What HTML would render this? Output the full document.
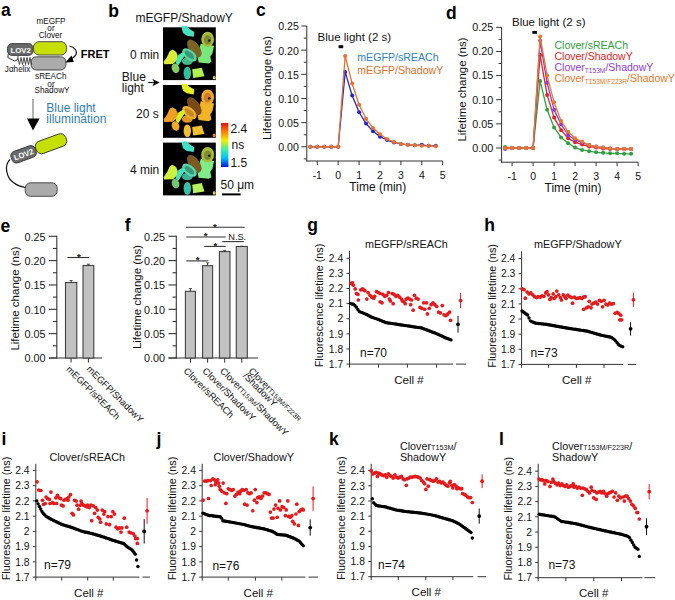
<!DOCTYPE html>
<html><head><meta charset="utf-8"><style>
html,body{margin:0;padding:0;background:#fff;width:675px;height:600px;overflow:hidden}
svg{display:block}
text{font-family:"Liberation Sans", sans-serif}
</style></head><body>
<svg width="675" height="600" viewBox="0 0 675 600">
<rect width="675" height="600" fill="#fff"/>
<text x="1.00" y="16.00" font-size="17.5" text-anchor="start" font-weight="bold" fill="#000" >a</text>
<text x="51.00" y="23.80" font-size="8.2" text-anchor="middle" font-weight="normal" fill="#111" >mEGFP</text>
<text x="51.00" y="31.20" font-size="8.2" text-anchor="middle" font-weight="normal" fill="#111" >or</text>
<text x="50.50" y="37.60" font-size="8.2" text-anchor="middle" font-weight="normal" fill="#111" >Clover</text>
<path d="M8.3,54 L7.8,57.5 L14.5,61 L17.8,59.5 L18,56" fill="#fff" stroke="#222" stroke-width="0.9" />
<rect x="7.50" y="43.60" width="25.60" height="11.80" fill="#686868" stroke="#3a3a3a" stroke-width="0.9" rx="4.5" />
<text x="20.60" y="53.20" font-size="7.8" text-anchor="middle" font-weight="bold" fill="#fff" >LOV2</text>
<rect x="33.50" y="41.70" width="33.00" height="13.30" fill="#c5e000" stroke="#3a3a3a" stroke-width="0.9" rx="5.5" />
<rect x="31.00" y="56.80" width="35.00" height="13.20" fill="#ababab" stroke="#3a3a3a" stroke-width="0.9" rx="5.5" />
<path d="M18,58.5 L19.5,64.5 L21.0,57.5 L22.5,64.5 L24.0,57.5 L25.5,64.5 L27.0,57.5 L28.5,64.5 L30.0,57.5 L31.5,64.5" fill="none" stroke="#333" stroke-width="0.9" />
<text x="4.80" y="71.50" font-size="8.2" text-anchor="start" font-weight="normal" fill="#111" >J&#945;helix</text>
<path d="M69.5,46 C75,47.5 77.5,51 76,54.5 C75.2,56.5 73.5,57.5 72,58.2" fill="none" stroke="#111" stroke-width="1.2" />
<path d="M65.3,62.6 L73.8,62 L71.5,55.5 Z" fill="#000" stroke="none" stroke-width="1" />
<text x="80.80" y="57.60" font-size="11" text-anchor="start" font-weight="bold" fill="#000" >FRET</text>
<text x="50.80" y="79.00" font-size="8.2" text-anchor="middle" font-weight="normal" fill="#111" >sREACh</text>
<text x="51.00" y="86.60" font-size="8.2" text-anchor="middle" font-weight="normal" fill="#111" >or</text>
<text x="52.00" y="92.50" font-size="8.2" text-anchor="middle" font-weight="normal" fill="#111" >ShadowY</text>
<line x1="33.00" y1="99.00" x2="33.00" y2="121.00" stroke="#555" stroke-width="0.9"/>
<path d="M27,118.5 L39.6,118.5 L33,130.5 Z" fill="#000" stroke="none" stroke-width="1" />
<text x="46.30" y="112.30" font-size="12" text-anchor="start" font-weight="normal" fill="#2e7db8" >Blue light</text>
<text x="46.30" y="123.30" font-size="12" text-anchor="start" font-weight="normal" fill="#2e7db8" >illumination</text>
<g transform="translate(51,143.7) rotate(-20)">
<rect x="-16.00" y="-6.50" width="32.00" height="13.00" fill="#c5e000" stroke="#3a3a3a" stroke-width="0.9" rx="5.5" />
</g>
<g transform="translate(23.6,154.3) rotate(-20)">
<rect x="-12.80" y="-6.00" width="25.60" height="12.00" fill="#6a6a6a" stroke="#3a3a3a" stroke-width="0.9" rx="4.5" />
<text x="0.00" y="3.00" font-size="7.8" text-anchor="middle" font-weight="bold" fill="#fff" >LOV2</text>
</g>
<path d="M10,159.5 C4,165 6,178 14,183 C18,186 22,187 26,187.5" fill="none" stroke="#111" stroke-width="1.2" />
<rect x="25.20" y="182.80" width="32.00" height="13.50" fill="#ababab" stroke="#3a3a3a" stroke-width="0.9" rx="5.5" />
<text x="108.30" y="16.90" font-size="17.5" text-anchor="start" font-weight="bold" fill="#000" >b</text>
<text x="184.20" y="22.30" font-size="12" text-anchor="middle" font-weight="normal" fill="#111" >mEGFP/ShadowY</text>
<defs><filter id="soft" x="-10%" y="-10%" width="120%" height="120%"><feGaussianBlur stdDeviation="0.45"/></filter></defs>
<rect x="163.00" y="27.30" width="52.80" height="52.80" fill="#000" stroke="none" stroke-width="1" rx="0" />
<g transform="translate(163,27.3) translate(27,26) scale(1.07) translate(-27,-26)" filter="url(#soft)">
<polyline points="19.00,0.80 23.50,0.50 27.00,3.50 31.00,6.00 30.50,10.50 24.00,9.50 20.50,7.00 19.50,3.50 19.00,0.80" fill="#48e0c0" stroke="none" stroke-width="1" stroke-linejoin="round"/>
<polyline points="37.00,17.00 49.50,19.00 48.00,26.00 46.00,29.00 47.00,34.00 44.50,35.50 35.00,34.50 34.00,29.00 37.50,26.00 36.00,21.00 37.00,17.00" fill="#78e878" stroke="none" stroke-width="1" stroke-linejoin="round"/>
<ellipse cx="43.5" cy="13" rx="6" ry="7.2" transform="rotate(0 43.5 13)" fill="#a8bc38"/>
<ellipse cx="43.5" cy="13.5" rx="3.5" ry="4.5" transform="rotate(0 43.5 13.5)" fill="#7c8a30"/>
<ellipse cx="31" cy="21.5" rx="5" ry="9.5" transform="rotate(-35 31 21.5)" fill="#7c6428"/>
<polyline points="10.50,22.50 14.00,24.50 15.50,28.00 15.50,32.00 11.00,36.00 3.00,36.30 2.30,34.00 5.50,29.50 8.00,24.00 10.50,22.50" fill="#d8ec38" stroke="none" stroke-width="1" stroke-linejoin="round"/>
<ellipse cx="24.5" cy="33.5" rx="5" ry="3.5" transform="rotate(0 24.5 33.5)" fill="#48b888"/>
<ellipse cx="26.5" cy="27.5" rx="8" ry="4.5" transform="rotate(40 26.5 27.5)" fill="#58d8a0"/>
<ellipse cx="26.5" cy="27.5" rx="5.5" ry="2.5" transform="rotate(40 26.5 27.5)" fill="#389878"/>
<polyline points="16.00,27.50 21.00,24.50 22.50,27.50 19.00,33.00 16.00,37.50 13.50,35.00 16.00,27.50" fill="#48e8b0" stroke="none" stroke-width="1" stroke-linejoin="round"/>
<ellipse cx="13.5" cy="40" rx="3.5" ry="4.5" transform="rotate(-20 13.5 40)" fill="#80d060"/>
<ellipse cx="24.5" cy="44.5" rx="3.5" ry="6" transform="rotate(0 24.5 44.5)" fill="#30c0a0"/>
<polyline points="29.00,41.00 38.00,39.50 40.50,47.50 30.00,49.00 29.00,41.00" fill="#b0f050" stroke="none" stroke-width="1" stroke-linejoin="round"/>
<ellipse cx="49.6" cy="48.8" rx="1.4" ry="1.7" transform="rotate(0 49.6 48.8)" fill="#d8d040"/>
<circle cx="45.00" cy="14.00" r="1.2" fill="#202010" stroke="none" stroke-width="1"/>
</g>
<rect x="163.00" y="85.00" width="52.80" height="52.80" fill="#000" stroke="none" stroke-width="1" rx="0" />
<g transform="translate(163,85) translate(27,26) scale(1.07) translate(-27,-26)" filter="url(#soft)">
<polyline points="19.00,0.80 23.50,0.50 27.00,3.50 31.00,6.00 30.50,10.50 24.00,9.50 20.50,7.00 19.50,3.50 19.00,0.80" fill="#e0f020" stroke="none" stroke-width="1" stroke-linejoin="round"/>
<polyline points="37.00,17.00 49.50,19.00 48.00,26.00 46.00,29.00 47.00,34.00 44.50,35.50 35.00,34.50 34.00,29.00 37.50,26.00 36.00,21.00 37.00,17.00" fill="#f0b428" stroke="none" stroke-width="1" stroke-linejoin="round"/>
<ellipse cx="43.5" cy="13" rx="6" ry="7.2" transform="rotate(0 43.5 13)" fill="#f0a830"/>
<ellipse cx="43.5" cy="13.5" rx="3.5" ry="4.5" transform="rotate(0 43.5 13.5)" fill="#c88020"/>
<ellipse cx="31" cy="21.5" rx="5" ry="9.5" transform="rotate(-35 31 21.5)" fill="#7a4a18"/>
<polyline points="10.50,22.50 14.00,24.50 15.50,28.00 15.50,32.00 11.00,36.00 3.00,36.30 2.30,34.00 5.50,29.50 8.00,24.00 10.50,22.50" fill="#f0a020" stroke="none" stroke-width="1" stroke-linejoin="round"/>
<ellipse cx="24.5" cy="33.5" rx="5" ry="3.5" transform="rotate(0 24.5 33.5)" fill="#e09820"/>
<ellipse cx="26.5" cy="27.5" rx="8" ry="4.5" transform="rotate(40 26.5 27.5)" fill="#f0b030"/>
<ellipse cx="26.5" cy="27.5" rx="5.5" ry="2.5" transform="rotate(40 26.5 27.5)" fill="#c88820"/>
<polyline points="16.00,27.50 21.00,24.50 22.50,27.50 19.00,33.00 16.00,37.50 13.50,35.00 16.00,27.50" fill="#d8f028" stroke="none" stroke-width="1" stroke-linejoin="round"/>
<ellipse cx="13.5" cy="40" rx="3.5" ry="4.5" transform="rotate(-20 13.5 40)" fill="#f0a828"/>
<ellipse cx="24.5" cy="44.5" rx="3.5" ry="6" transform="rotate(0 24.5 44.5)" fill="#f0c030"/>
<polyline points="29.00,41.00 38.00,39.50 40.50,47.50 30.00,49.00 29.00,41.00" fill="#f0c030" stroke="none" stroke-width="1" stroke-linejoin="round"/>
<ellipse cx="49.6" cy="48.8" rx="1.4" ry="1.7" transform="rotate(0 49.6 48.8)" fill="#f08020"/>
<circle cx="45.00" cy="14.00" r="1.2" fill="#301800" stroke="none" stroke-width="1"/>
</g>
<rect x="163.00" y="142.60" width="52.80" height="52.80" fill="#000" stroke="none" stroke-width="1" rx="0" />
<g transform="translate(163,142.6) translate(27,26) scale(1.07) translate(-27,-26)" filter="url(#soft)">
<polyline points="19.00,0.80 23.50,0.50 27.00,3.50 31.00,6.00 30.50,10.50 24.00,9.50 20.50,7.00 19.50,3.50 19.00,0.80" fill="#40e0c8" stroke="none" stroke-width="1" stroke-linejoin="round"/>
<polyline points="37.00,17.00 49.50,19.00 48.00,26.00 46.00,29.00 47.00,34.00 44.50,35.50 35.00,34.50 34.00,29.00 37.50,26.00 36.00,21.00 37.00,17.00" fill="#80ec88" stroke="none" stroke-width="1" stroke-linejoin="round"/>
<ellipse cx="43.5" cy="13" rx="6" ry="7.2" transform="rotate(0 43.5 13)" fill="#a8bc38"/>
<ellipse cx="43.5" cy="13.5" rx="3.5" ry="4.5" transform="rotate(0 43.5 13.5)" fill="#7c8a30"/>
<ellipse cx="31" cy="21.5" rx="5" ry="9.5" transform="rotate(-35 31 21.5)" fill="#7a5a20"/>
<polyline points="10.50,22.50 14.00,24.50 15.50,28.00 15.50,32.00 11.00,36.00 3.00,36.30 2.30,34.00 5.50,29.50 8.00,24.00 10.50,22.50" fill="#d0f040" stroke="none" stroke-width="1" stroke-linejoin="round"/>
<ellipse cx="24.5" cy="33.5" rx="5" ry="3.5" transform="rotate(0 24.5 33.5)" fill="#40b090"/>
<ellipse cx="26.5" cy="27.5" rx="8" ry="4.5" transform="rotate(40 26.5 27.5)" fill="#58d8b0"/>
<ellipse cx="26.5" cy="27.5" rx="5.5" ry="2.5" transform="rotate(40 26.5 27.5)" fill="#389878"/>
<polyline points="16.00,27.50 21.00,24.50 22.50,27.50 19.00,33.00 16.00,37.50 13.50,35.00 16.00,27.50" fill="#48e0c0" stroke="none" stroke-width="1" stroke-linejoin="round"/>
<ellipse cx="13.5" cy="40" rx="3.5" ry="4.5" transform="rotate(-20 13.5 40)" fill="#70c870"/>
<ellipse cx="24.5" cy="44.5" rx="3.5" ry="6" transform="rotate(0 24.5 44.5)" fill="#38c0a8"/>
<polyline points="29.00,41.00 38.00,39.50 40.50,47.50 30.00,49.00 29.00,41.00" fill="#b8f060" stroke="none" stroke-width="1" stroke-linejoin="round"/>
<ellipse cx="49.6" cy="48.8" rx="1.4" ry="1.7" transform="rotate(0 49.6 48.8)" fill="#d8d040"/>
<circle cx="45.00" cy="14.00" r="1.2" fill="#202010" stroke="none" stroke-width="1"/>
</g>
<text x="159.30" y="58.60" font-size="12" text-anchor="end" font-weight="normal" fill="#111" >0 min</text>
<text x="158.80" y="117.80" font-size="12" text-anchor="end" font-weight="normal" fill="#111" >20 s</text>
<text x="159.30" y="173.80" font-size="12" text-anchor="end" font-weight="normal" fill="#111" >4 min</text>
<text x="121.80" y="81.20" font-size="12" text-anchor="start" font-weight="normal" fill="#111" >Blue</text>
<text x="121.80" y="92.00" font-size="12" text-anchor="start" font-weight="normal" fill="#111" >light</text>
<line x1="148.30" y1="82.60" x2="156.00" y2="82.60" stroke="#000" stroke-width="1"/>
<path d="M152.3,79 L159.6,82.6 L152.3,86.2 L154.3,82.6 Z" fill="#000" stroke="none" stroke-width="1" />
<defs><linearGradient id="jet" x1="0" y1="0" x2="0" y2="1"><stop offset="0" stop-color="#e01010"/><stop offset="0.2" stop-color="#ff8000"/><stop offset="0.4" stop-color="#f0f000"/><stop offset="0.6" stop-color="#40f0a0"/><stop offset="0.8" stop-color="#00c0ff"/><stop offset="1" stop-color="#0010e0"/></linearGradient></defs>
<rect x="221.00" y="123.00" width="7.40" height="44.00" fill="url(#jet)" stroke="none" stroke-width="1" rx="0" />
<text x="230.50" y="132.60" font-size="12" text-anchor="start" font-weight="normal" fill="#111" >2.4</text>
<text x="231.50" y="149.20" font-size="12" text-anchor="start" font-weight="normal" fill="#111" >ns</text>
<text x="230.50" y="167.20" font-size="12" text-anchor="start" font-weight="normal" fill="#111" >1.5</text>
<text x="220.50" y="189.20" font-size="12" text-anchor="start" font-weight="normal" fill="#111" >50 &#956;m</text>
<rect x="222.00" y="193.40" width="18.60" height="2.00" fill="#000" stroke="none" stroke-width="1" rx="0" />
<text x="256.00" y="16.40" font-size="17.5" text-anchor="start" font-weight="bold" fill="#000" >c</text>
<line x1="306.80" y1="26.00" x2="306.80" y2="161.50" stroke="#333" stroke-width="1"/>
<line x1="306.30" y1="161.00" x2="442.70" y2="161.00" stroke="#333" stroke-width="1"/>
<line x1="301.30" y1="146.80" x2="306.80" y2="146.80" stroke="#333" stroke-width="1"/>
<text x="298.80" y="151.20" font-size="10.6" text-anchor="end" font-weight="normal" fill="#111" >0.00</text>
<line x1="301.30" y1="122.64" x2="306.80" y2="122.64" stroke="#333" stroke-width="1"/>
<text x="298.80" y="127.04" font-size="10.6" text-anchor="end" font-weight="normal" fill="#111" >0.05</text>
<line x1="301.30" y1="98.48" x2="306.80" y2="98.48" stroke="#333" stroke-width="1"/>
<text x="298.80" y="102.88" font-size="10.6" text-anchor="end" font-weight="normal" fill="#111" >0.10</text>
<line x1="301.30" y1="74.32" x2="306.80" y2="74.32" stroke="#333" stroke-width="1"/>
<text x="298.80" y="78.72" font-size="10.6" text-anchor="end" font-weight="normal" fill="#111" >0.15</text>
<line x1="301.30" y1="50.16" x2="306.80" y2="50.16" stroke="#333" stroke-width="1"/>
<text x="298.80" y="54.56" font-size="10.6" text-anchor="end" font-weight="normal" fill="#111" >0.20</text>
<line x1="301.30" y1="26.00" x2="306.80" y2="26.00" stroke="#333" stroke-width="1"/>
<text x="298.80" y="30.40" font-size="10.6" text-anchor="end" font-weight="normal" fill="#111" >0.25</text>
<line x1="303.80" y1="158.88" x2="306.80" y2="158.88" stroke="#333" stroke-width="1"/>
<line x1="303.80" y1="134.72" x2="306.80" y2="134.72" stroke="#333" stroke-width="1"/>
<line x1="303.80" y1="110.56" x2="306.80" y2="110.56" stroke="#333" stroke-width="1"/>
<line x1="303.80" y1="86.40" x2="306.80" y2="86.40" stroke="#333" stroke-width="1"/>
<line x1="303.80" y1="62.24" x2="306.80" y2="62.24" stroke="#333" stroke-width="1"/>
<line x1="303.80" y1="38.08" x2="306.80" y2="38.08" stroke="#333" stroke-width="1"/>
<line x1="317.30" y1="161.00" x2="317.30" y2="165.00" stroke="#333" stroke-width="1"/>
<text x="317.30" y="179.00" font-size="10.5" text-anchor="middle" font-weight="normal" fill="#111" >-1</text>
<line x1="338.20" y1="161.00" x2="338.20" y2="165.00" stroke="#333" stroke-width="1"/>
<text x="338.20" y="179.00" font-size="10.5" text-anchor="middle" font-weight="normal" fill="#111" >0</text>
<line x1="359.10" y1="161.00" x2="359.10" y2="165.00" stroke="#333" stroke-width="1"/>
<text x="359.10" y="179.00" font-size="10.5" text-anchor="middle" font-weight="normal" fill="#111" >1</text>
<line x1="380.00" y1="161.00" x2="380.00" y2="165.00" stroke="#333" stroke-width="1"/>
<text x="380.00" y="179.00" font-size="10.5" text-anchor="middle" font-weight="normal" fill="#111" >2</text>
<line x1="400.90" y1="161.00" x2="400.90" y2="165.00" stroke="#333" stroke-width="1"/>
<text x="400.90" y="179.00" font-size="10.5" text-anchor="middle" font-weight="normal" fill="#111" >3</text>
<line x1="421.80" y1="161.00" x2="421.80" y2="165.00" stroke="#333" stroke-width="1"/>
<text x="421.80" y="179.00" font-size="10.5" text-anchor="middle" font-weight="normal" fill="#111" >4</text>
<line x1="442.70" y1="161.00" x2="442.70" y2="165.00" stroke="#333" stroke-width="1"/>
<text x="442.70" y="179.00" font-size="10.5" text-anchor="middle" font-weight="normal" fill="#111" >5</text>
<text x="377.80" y="191.00" font-size="12" text-anchor="middle" font-weight="normal" fill="#111" >Time (min)</text>
<text x="271.00" y="88.00" font-size="11.5" text-anchor="middle" font-weight="normal" fill="#111" transform="rotate(-90 271 88)" >Lifetime change (ns)</text>
<text x="317.60" y="41.40" font-size="11.5" text-anchor="start" font-weight="normal" fill="#111" >Blue light (2 s)</text>
<rect x="338.60" y="45.20" width="4.60" height="3.00" fill="#000" stroke="none" stroke-width="1" rx="0" />
<text x="357.30" y="61.20" font-size="10.6" text-anchor="start" font-weight="normal" fill="#2d7fc1" >mEGFP/sREACh</text>
<text x="357.30" y="74.30" font-size="10.6" text-anchor="start" font-weight="normal" fill="#e4702c" >mEGFP/ShadowY</text>
<polyline points="310.33,146.80 317.30,146.80 324.27,146.80 331.23,146.80 338.20,146.80 345.17,71.90 352.13,95.58 359.10,112.25 366.07,123.61 373.03,131.34 380.00,136.65 386.97,140.04 393.93,142.45 400.90,143.90 407.87,144.87 414.83,145.35 421.80,144.87 428.77,145.83 435.73,145.83" fill="none" stroke="#2424c8" stroke-width="1.3" stroke-linejoin="round"/>
<circle cx="310.33" cy="146.80" r="2.0" fill="#2424c8" stroke="none" stroke-width="1"/>
<circle cx="317.30" cy="146.80" r="2.0" fill="#2424c8" stroke="none" stroke-width="1"/>
<circle cx="324.27" cy="146.80" r="2.0" fill="#2424c8" stroke="none" stroke-width="1"/>
<circle cx="331.23" cy="146.80" r="2.0" fill="#2424c8" stroke="none" stroke-width="1"/>
<circle cx="338.20" cy="146.80" r="2.0" fill="#2424c8" stroke="none" stroke-width="1"/>
<circle cx="345.17" cy="71.90" r="2.0" fill="#2424c8" stroke="none" stroke-width="1"/>
<circle cx="352.13" cy="95.58" r="2.0" fill="#2424c8" stroke="none" stroke-width="1"/>
<circle cx="359.10" cy="112.25" r="2.0" fill="#2424c8" stroke="none" stroke-width="1"/>
<circle cx="366.07" cy="123.61" r="2.0" fill="#2424c8" stroke="none" stroke-width="1"/>
<circle cx="373.03" cy="131.34" r="2.0" fill="#2424c8" stroke="none" stroke-width="1"/>
<circle cx="380.00" cy="136.65" r="2.0" fill="#2424c8" stroke="none" stroke-width="1"/>
<circle cx="386.97" cy="140.04" r="2.0" fill="#2424c8" stroke="none" stroke-width="1"/>
<circle cx="393.93" cy="142.45" r="2.0" fill="#2424c8" stroke="none" stroke-width="1"/>
<circle cx="400.90" cy="143.90" r="2.0" fill="#2424c8" stroke="none" stroke-width="1"/>
<circle cx="407.87" cy="144.87" r="2.0" fill="#2424c8" stroke="none" stroke-width="1"/>
<circle cx="414.83" cy="145.35" r="2.0" fill="#2424c8" stroke="none" stroke-width="1"/>
<circle cx="421.80" cy="144.87" r="2.0" fill="#2424c8" stroke="none" stroke-width="1"/>
<circle cx="428.77" cy="145.83" r="2.0" fill="#2424c8" stroke="none" stroke-width="1"/>
<circle cx="435.73" cy="145.83" r="2.0" fill="#2424c8" stroke="none" stroke-width="1"/>
<polyline points="310.33,146.80 317.30,146.80 324.27,146.80 331.23,146.80 338.20,146.80 345.17,55.96 352.13,83.50 359.10,104.76 366.07,118.77 373.03,127.96 380.00,134.24 386.97,139.07 393.93,141.97 400.90,143.90 407.87,144.87 414.83,145.35 421.80,145.83 428.77,145.83 435.73,146.32" fill="none" stroke="#e8702a" stroke-width="1.3" stroke-linejoin="round"/>
<circle cx="310.33" cy="146.80" r="2.0" fill="#e8702a" stroke="none" stroke-width="1"/>
<circle cx="317.30" cy="146.80" r="2.0" fill="#e8702a" stroke="none" stroke-width="1"/>
<circle cx="324.27" cy="146.80" r="2.0" fill="#e8702a" stroke="none" stroke-width="1"/>
<circle cx="331.23" cy="146.80" r="2.0" fill="#e8702a" stroke="none" stroke-width="1"/>
<circle cx="338.20" cy="146.80" r="2.0" fill="#e8702a" stroke="none" stroke-width="1"/>
<circle cx="345.17" cy="55.96" r="2.0" fill="#e8702a" stroke="none" stroke-width="1"/>
<circle cx="352.13" cy="83.50" r="2.0" fill="#e8702a" stroke="none" stroke-width="1"/>
<circle cx="359.10" cy="104.76" r="2.0" fill="#e8702a" stroke="none" stroke-width="1"/>
<circle cx="366.07" cy="118.77" r="2.0" fill="#e8702a" stroke="none" stroke-width="1"/>
<circle cx="373.03" cy="127.96" r="2.0" fill="#e8702a" stroke="none" stroke-width="1"/>
<circle cx="380.00" cy="134.24" r="2.0" fill="#e8702a" stroke="none" stroke-width="1"/>
<circle cx="386.97" cy="139.07" r="2.0" fill="#e8702a" stroke="none" stroke-width="1"/>
<circle cx="393.93" cy="141.97" r="2.0" fill="#e8702a" stroke="none" stroke-width="1"/>
<circle cx="400.90" cy="143.90" r="2.0" fill="#e8702a" stroke="none" stroke-width="1"/>
<circle cx="407.87" cy="144.87" r="2.0" fill="#e8702a" stroke="none" stroke-width="1"/>
<circle cx="414.83" cy="145.35" r="2.0" fill="#e8702a" stroke="none" stroke-width="1"/>
<circle cx="421.80" cy="145.83" r="2.0" fill="#e8702a" stroke="none" stroke-width="1"/>
<circle cx="428.77" cy="145.83" r="2.0" fill="#e8702a" stroke="none" stroke-width="1"/>
<circle cx="435.73" cy="146.32" r="2.0" fill="#e8702a" stroke="none" stroke-width="1"/>
<text x="446.00" y="18.50" font-size="17.5" text-anchor="start" font-weight="bold" fill="#000" >d</text>
<line x1="501.60" y1="27.30" x2="501.60" y2="162.70" stroke="#333" stroke-width="1"/>
<line x1="501.10" y1="162.20" x2="638.10" y2="162.20" stroke="#333" stroke-width="1"/>
<line x1="496.10" y1="148.00" x2="501.60" y2="148.00" stroke="#333" stroke-width="1"/>
<text x="493.20" y="151.90" font-size="10.8" text-anchor="end" font-weight="normal" fill="#111" >0.00</text>
<line x1="496.10" y1="123.86" x2="501.60" y2="123.86" stroke="#333" stroke-width="1"/>
<text x="493.20" y="127.76" font-size="10.8" text-anchor="end" font-weight="normal" fill="#111" >0.05</text>
<line x1="496.10" y1="99.72" x2="501.60" y2="99.72" stroke="#333" stroke-width="1"/>
<text x="493.20" y="103.62" font-size="10.8" text-anchor="end" font-weight="normal" fill="#111" >0.10</text>
<line x1="496.10" y1="75.58" x2="501.60" y2="75.58" stroke="#333" stroke-width="1"/>
<text x="493.20" y="79.48" font-size="10.8" text-anchor="end" font-weight="normal" fill="#111" >0.15</text>
<line x1="496.10" y1="51.44" x2="501.60" y2="51.44" stroke="#333" stroke-width="1"/>
<text x="493.20" y="55.34" font-size="10.8" text-anchor="end" font-weight="normal" fill="#111" >0.20</text>
<line x1="496.10" y1="27.30" x2="501.60" y2="27.30" stroke="#333" stroke-width="1"/>
<text x="493.20" y="31.20" font-size="10.8" text-anchor="end" font-weight="normal" fill="#111" >0.25</text>
<line x1="498.60" y1="160.07" x2="501.60" y2="160.07" stroke="#333" stroke-width="1"/>
<line x1="498.60" y1="135.93" x2="501.60" y2="135.93" stroke="#333" stroke-width="1"/>
<line x1="498.60" y1="111.79" x2="501.60" y2="111.79" stroke="#333" stroke-width="1"/>
<line x1="498.60" y1="87.65" x2="501.60" y2="87.65" stroke="#333" stroke-width="1"/>
<line x1="498.60" y1="63.51" x2="501.60" y2="63.51" stroke="#333" stroke-width="1"/>
<line x1="498.60" y1="39.37" x2="501.60" y2="39.37" stroke="#333" stroke-width="1"/>
<line x1="512.10" y1="162.20" x2="512.10" y2="166.20" stroke="#333" stroke-width="1"/>
<text x="512.10" y="180.20" font-size="10.5" text-anchor="middle" font-weight="normal" fill="#111" >-1</text>
<line x1="533.10" y1="162.20" x2="533.10" y2="166.20" stroke="#333" stroke-width="1"/>
<text x="533.10" y="180.20" font-size="10.5" text-anchor="middle" font-weight="normal" fill="#111" >0</text>
<line x1="554.10" y1="162.20" x2="554.10" y2="166.20" stroke="#333" stroke-width="1"/>
<text x="554.10" y="180.20" font-size="10.5" text-anchor="middle" font-weight="normal" fill="#111" >1</text>
<line x1="575.10" y1="162.20" x2="575.10" y2="166.20" stroke="#333" stroke-width="1"/>
<text x="575.10" y="180.20" font-size="10.5" text-anchor="middle" font-weight="normal" fill="#111" >2</text>
<line x1="596.10" y1="162.20" x2="596.10" y2="166.20" stroke="#333" stroke-width="1"/>
<text x="596.10" y="180.20" font-size="10.5" text-anchor="middle" font-weight="normal" fill="#111" >3</text>
<line x1="617.10" y1="162.20" x2="617.10" y2="166.20" stroke="#333" stroke-width="1"/>
<text x="617.10" y="180.20" font-size="10.5" text-anchor="middle" font-weight="normal" fill="#111" >4</text>
<line x1="638.10" y1="162.20" x2="638.10" y2="166.20" stroke="#333" stroke-width="1"/>
<text x="638.10" y="180.20" font-size="10.5" text-anchor="middle" font-weight="normal" fill="#111" >5</text>
<text x="573.00" y="192.20" font-size="12" text-anchor="middle" font-weight="normal" fill="#111" >Time (min)</text>
<text x="465.70" y="89.50" font-size="11.5" text-anchor="middle" font-weight="normal" fill="#111" transform="rotate(-90 465.7 89.5)" >Lifetime change (ns)</text>
<text x="512.00" y="26.40" font-size="11.5" text-anchor="start" font-weight="normal" fill="#111" >Blue light (2 s)</text>
<rect x="532.40" y="31.00" width="4.50" height="2.80" fill="#000" stroke="none" stroke-width="1" rx="0" />
<text x="554.50" y="48.80" font-size="10.5" text-anchor="start" font-weight="normal" fill="#2ea040" >Clover/sREACh</text>
<text x="554.50" y="59.60" font-size="10.5" text-anchor="start" font-weight="normal" fill="#e02424" >Clover/ShadowY</text>
<text x="554.5" y="71.2" font-size="10.5" fill="#8a3cd8">Clover<tspan font-size="6.6" dy="1.3">T153M</tspan><tspan dy="-1.3">/ShadowY</tspan></text>
<text x="554.5" y="82.2" font-size="10.5" fill="#e8782a">Clover<tspan font-size="6.6" dy="1.3">T153M/F223R</tspan><tspan dy="-1.3">/ShadowY</tspan></text>
<polyline points="505.10,147.03 512.10,148.00 519.10,148.00 526.10,148.00 533.10,148.00 540.10,80.89 547.10,109.86 554.10,127.48 561.10,137.38 568.10,143.27 575.10,147.52 582.10,149.93 589.10,151.23 596.10,152.35 603.10,152.83 610.10,153.31 617.10,153.31 624.10,153.79 631.10,153.79" fill="none" stroke="#2ea040" stroke-width="1.3" stroke-linejoin="round"/>
<circle cx="505.10" cy="147.03" r="2.0" fill="#2ea040" stroke="none" stroke-width="1"/>
<circle cx="512.10" cy="148.00" r="2.0" fill="#2ea040" stroke="none" stroke-width="1"/>
<circle cx="519.10" cy="148.00" r="2.0" fill="#2ea040" stroke="none" stroke-width="1"/>
<circle cx="526.10" cy="148.00" r="2.0" fill="#2ea040" stroke="none" stroke-width="1"/>
<circle cx="533.10" cy="148.00" r="2.0" fill="#2ea040" stroke="none" stroke-width="1"/>
<circle cx="540.10" cy="80.89" r="2.0" fill="#2ea040" stroke="none" stroke-width="1"/>
<circle cx="547.10" cy="109.86" r="2.0" fill="#2ea040" stroke="none" stroke-width="1"/>
<circle cx="554.10" cy="127.48" r="2.0" fill="#2ea040" stroke="none" stroke-width="1"/>
<circle cx="561.10" cy="137.38" r="2.0" fill="#2ea040" stroke="none" stroke-width="1"/>
<circle cx="568.10" cy="143.27" r="2.0" fill="#2ea040" stroke="none" stroke-width="1"/>
<circle cx="575.10" cy="147.52" r="2.0" fill="#2ea040" stroke="none" stroke-width="1"/>
<circle cx="582.10" cy="149.93" r="2.0" fill="#2ea040" stroke="none" stroke-width="1"/>
<circle cx="589.10" cy="151.23" r="2.0" fill="#2ea040" stroke="none" stroke-width="1"/>
<circle cx="596.10" cy="152.35" r="2.0" fill="#2ea040" stroke="none" stroke-width="1"/>
<circle cx="603.10" cy="152.83" r="2.0" fill="#2ea040" stroke="none" stroke-width="1"/>
<circle cx="610.10" cy="153.31" r="2.0" fill="#2ea040" stroke="none" stroke-width="1"/>
<circle cx="617.10" cy="153.31" r="2.0" fill="#2ea040" stroke="none" stroke-width="1"/>
<circle cx="624.10" cy="153.79" r="2.0" fill="#2ea040" stroke="none" stroke-width="1"/>
<circle cx="631.10" cy="153.79" r="2.0" fill="#2ea040" stroke="none" stroke-width="1"/>
<polyline points="505.10,148.00 512.10,148.00 519.10,148.00 526.10,148.00 533.10,148.00 540.10,55.06 547.10,94.89 554.10,117.58 561.10,130.14 568.10,138.34 575.10,142.21 582.10,144.62 589.10,146.55 596.10,147.52 603.10,148.48 610.10,148.97 617.10,148.97 624.10,148.97 631.10,148.97" fill="none" stroke="#e02424" stroke-width="1.3" stroke-linejoin="round"/>
<circle cx="505.10" cy="148.00" r="2.0" fill="#e02424" stroke="none" stroke-width="1"/>
<circle cx="512.10" cy="148.00" r="2.0" fill="#e02424" stroke="none" stroke-width="1"/>
<circle cx="519.10" cy="148.00" r="2.0" fill="#e02424" stroke="none" stroke-width="1"/>
<circle cx="526.10" cy="148.00" r="2.0" fill="#e02424" stroke="none" stroke-width="1"/>
<circle cx="533.10" cy="148.00" r="2.0" fill="#e02424" stroke="none" stroke-width="1"/>
<circle cx="540.10" cy="55.06" r="2.0" fill="#e02424" stroke="none" stroke-width="1"/>
<circle cx="547.10" cy="94.89" r="2.0" fill="#e02424" stroke="none" stroke-width="1"/>
<circle cx="554.10" cy="117.58" r="2.0" fill="#e02424" stroke="none" stroke-width="1"/>
<circle cx="561.10" cy="130.14" r="2.0" fill="#e02424" stroke="none" stroke-width="1"/>
<circle cx="568.10" cy="138.34" r="2.0" fill="#e02424" stroke="none" stroke-width="1"/>
<circle cx="575.10" cy="142.21" r="2.0" fill="#e02424" stroke="none" stroke-width="1"/>
<circle cx="582.10" cy="144.62" r="2.0" fill="#e02424" stroke="none" stroke-width="1"/>
<circle cx="589.10" cy="146.55" r="2.0" fill="#e02424" stroke="none" stroke-width="1"/>
<circle cx="596.10" cy="147.52" r="2.0" fill="#e02424" stroke="none" stroke-width="1"/>
<circle cx="603.10" cy="148.48" r="2.0" fill="#e02424" stroke="none" stroke-width="1"/>
<circle cx="610.10" cy="148.97" r="2.0" fill="#e02424" stroke="none" stroke-width="1"/>
<circle cx="617.10" cy="148.97" r="2.0" fill="#e02424" stroke="none" stroke-width="1"/>
<circle cx="624.10" cy="148.97" r="2.0" fill="#e02424" stroke="none" stroke-width="1"/>
<circle cx="631.10" cy="148.97" r="2.0" fill="#e02424" stroke="none" stroke-width="1"/>
<polyline points="505.10,148.97 512.10,148.00 519.10,148.00 526.10,148.00 533.10,148.00 540.10,40.82 547.10,82.82 554.10,109.86 561.10,124.34 568.10,134.96 575.10,139.79 582.10,142.69 589.10,145.10 596.10,146.55 603.10,147.52 610.10,148.48 617.10,148.97 624.10,148.97 631.10,148.97" fill="none" stroke="#8a3cd8" stroke-width="1.3" stroke-linejoin="round"/>
<circle cx="505.10" cy="148.97" r="2.0" fill="#8a3cd8" stroke="none" stroke-width="1"/>
<circle cx="512.10" cy="148.00" r="2.0" fill="#8a3cd8" stroke="none" stroke-width="1"/>
<circle cx="519.10" cy="148.00" r="2.0" fill="#8a3cd8" stroke="none" stroke-width="1"/>
<circle cx="526.10" cy="148.00" r="2.0" fill="#8a3cd8" stroke="none" stroke-width="1"/>
<circle cx="533.10" cy="148.00" r="2.0" fill="#8a3cd8" stroke="none" stroke-width="1"/>
<circle cx="540.10" cy="40.82" r="2.0" fill="#8a3cd8" stroke="none" stroke-width="1"/>
<circle cx="547.10" cy="82.82" r="2.0" fill="#8a3cd8" stroke="none" stroke-width="1"/>
<circle cx="554.10" cy="109.86" r="2.0" fill="#8a3cd8" stroke="none" stroke-width="1"/>
<circle cx="561.10" cy="124.34" r="2.0" fill="#8a3cd8" stroke="none" stroke-width="1"/>
<circle cx="568.10" cy="134.96" r="2.0" fill="#8a3cd8" stroke="none" stroke-width="1"/>
<circle cx="575.10" cy="139.79" r="2.0" fill="#8a3cd8" stroke="none" stroke-width="1"/>
<circle cx="582.10" cy="142.69" r="2.0" fill="#8a3cd8" stroke="none" stroke-width="1"/>
<circle cx="589.10" cy="145.10" r="2.0" fill="#8a3cd8" stroke="none" stroke-width="1"/>
<circle cx="596.10" cy="146.55" r="2.0" fill="#8a3cd8" stroke="none" stroke-width="1"/>
<circle cx="603.10" cy="147.52" r="2.0" fill="#8a3cd8" stroke="none" stroke-width="1"/>
<circle cx="610.10" cy="148.48" r="2.0" fill="#8a3cd8" stroke="none" stroke-width="1"/>
<circle cx="617.10" cy="148.97" r="2.0" fill="#8a3cd8" stroke="none" stroke-width="1"/>
<circle cx="624.10" cy="148.97" r="2.0" fill="#8a3cd8" stroke="none" stroke-width="1"/>
<circle cx="631.10" cy="148.97" r="2.0" fill="#8a3cd8" stroke="none" stroke-width="1"/>
<polyline points="505.10,148.00 512.10,148.00 519.10,148.00 526.10,148.00 533.10,148.00 540.10,36.47 547.10,75.58 554.10,102.33 561.10,120.96 568.10,131.83 575.10,138.34 582.10,141.72 589.10,145.10 596.10,146.55 603.10,147.52 610.10,148.48 617.10,148.97 624.10,148.97 631.10,148.97" fill="none" stroke="#e8782a" stroke-width="1.3" stroke-linejoin="round"/>
<circle cx="505.10" cy="148.00" r="2.0" fill="#e8782a" stroke="none" stroke-width="1"/>
<circle cx="512.10" cy="148.00" r="2.0" fill="#e8782a" stroke="none" stroke-width="1"/>
<circle cx="519.10" cy="148.00" r="2.0" fill="#e8782a" stroke="none" stroke-width="1"/>
<circle cx="526.10" cy="148.00" r="2.0" fill="#e8782a" stroke="none" stroke-width="1"/>
<circle cx="533.10" cy="148.00" r="2.0" fill="#e8782a" stroke="none" stroke-width="1"/>
<circle cx="540.10" cy="36.47" r="2.0" fill="#e8782a" stroke="none" stroke-width="1"/>
<circle cx="547.10" cy="75.58" r="2.0" fill="#e8782a" stroke="none" stroke-width="1"/>
<circle cx="554.10" cy="102.33" r="2.0" fill="#e8782a" stroke="none" stroke-width="1"/>
<circle cx="561.10" cy="120.96" r="2.0" fill="#e8782a" stroke="none" stroke-width="1"/>
<circle cx="568.10" cy="131.83" r="2.0" fill="#e8782a" stroke="none" stroke-width="1"/>
<circle cx="575.10" cy="138.34" r="2.0" fill="#e8782a" stroke="none" stroke-width="1"/>
<circle cx="582.10" cy="141.72" r="2.0" fill="#e8782a" stroke="none" stroke-width="1"/>
<circle cx="589.10" cy="145.10" r="2.0" fill="#e8782a" stroke="none" stroke-width="1"/>
<circle cx="596.10" cy="146.55" r="2.0" fill="#e8782a" stroke="none" stroke-width="1"/>
<circle cx="603.10" cy="147.52" r="2.0" fill="#e8782a" stroke="none" stroke-width="1"/>
<circle cx="610.10" cy="148.48" r="2.0" fill="#e8782a" stroke="none" stroke-width="1"/>
<circle cx="617.10" cy="148.97" r="2.0" fill="#e8782a" stroke="none" stroke-width="1"/>
<circle cx="624.10" cy="148.97" r="2.0" fill="#e8782a" stroke="none" stroke-width="1"/>
<circle cx="631.10" cy="148.97" r="2.0" fill="#e8782a" stroke="none" stroke-width="1"/>
<text x="0.50" y="232.00" font-size="17.5" text-anchor="start" font-weight="bold" fill="#000" >e</text>
<line x1="56.80" y1="235.75" x2="56.80" y2="358.50" stroke="#333" stroke-width="1.1"/>
<line x1="49.00" y1="358.00" x2="102.00" y2="358.00" stroke="#333" stroke-width="1.1"/>
<line x1="49.00" y1="358.00" x2="56.80" y2="358.00" stroke="#333" stroke-width="1.1"/>
<text x="45.50" y="362.40" font-size="10.8" text-anchor="end" font-weight="normal" fill="#111" >0.00</text>
<line x1="49.00" y1="333.65" x2="56.80" y2="333.65" stroke="#333" stroke-width="1.1"/>
<text x="45.50" y="338.05" font-size="10.8" text-anchor="end" font-weight="normal" fill="#111" >0.05</text>
<line x1="49.00" y1="309.30" x2="56.80" y2="309.30" stroke="#333" stroke-width="1.1"/>
<text x="45.50" y="313.70" font-size="10.8" text-anchor="end" font-weight="normal" fill="#111" >0.10</text>
<line x1="49.00" y1="284.95" x2="56.80" y2="284.95" stroke="#333" stroke-width="1.1"/>
<text x="45.50" y="289.35" font-size="10.8" text-anchor="end" font-weight="normal" fill="#111" >0.15</text>
<line x1="49.00" y1="260.60" x2="56.80" y2="260.60" stroke="#333" stroke-width="1.1"/>
<text x="45.50" y="265.00" font-size="10.8" text-anchor="end" font-weight="normal" fill="#111" >0.20</text>
<line x1="49.00" y1="236.25" x2="56.80" y2="236.25" stroke="#333" stroke-width="1.1"/>
<text x="45.50" y="240.65" font-size="10.8" text-anchor="end" font-weight="normal" fill="#111" >0.25</text>
<line x1="53.00" y1="345.82" x2="56.80" y2="345.82" stroke="#333" stroke-width="1.1"/>
<line x1="53.00" y1="321.48" x2="56.80" y2="321.48" stroke="#333" stroke-width="1.1"/>
<line x1="53.00" y1="297.12" x2="56.80" y2="297.12" stroke="#333" stroke-width="1.1"/>
<line x1="53.00" y1="272.77" x2="56.80" y2="272.77" stroke="#333" stroke-width="1.1"/>
<line x1="53.00" y1="248.43" x2="56.80" y2="248.43" stroke="#333" stroke-width="1.1"/>
<text x="18.60" y="298.50" font-size="11.5" text-anchor="middle" font-weight="normal" fill="#111" transform="rotate(-90 18.6 298.5)" >Lifetime change (ns)</text>
<rect x="65.50" y="282.51" width="11.30" height="75.49" fill="#c2c2c2" stroke="#404040" stroke-width="1.1" rx="0" />
<line x1="71.15" y1="280.50" x2="71.15" y2="282.51" stroke="#333" stroke-width="1"/>
<line x1="69.65" y1="280.50" x2="72.65" y2="280.50" stroke="#333" stroke-width="0.8"/>
<rect x="83.00" y="265.47" width="10.80" height="92.53" fill="#c2c2c2" stroke="#404040" stroke-width="1.1" rx="0" />
<line x1="88.40" y1="264.20" x2="88.40" y2="265.47" stroke="#333" stroke-width="1"/>
<line x1="86.90" y1="264.20" x2="89.90" y2="264.20" stroke="#333" stroke-width="0.8"/>
<line x1="71.10" y1="358.00" x2="71.10" y2="362.50" stroke="#333" stroke-width="1"/>
<line x1="88.40" y1="358.00" x2="88.40" y2="362.50" stroke="#333" stroke-width="1"/>
<line x1="67.50" y1="257.50" x2="89.00" y2="257.50" stroke="#333" stroke-width="1.1"/>
<text x="78.80" y="259.90" font-size="9.8" text-anchor="middle" font-weight="bold" fill="#222" >*</text>
<text x="65.80" y="369.80" font-size="9.3" text-anchor="start" font-weight="normal" fill="#111" transform="rotate(45 65.8 369.8)" >mEGFP/sREACh</text>
<text x="86.00" y="369.50" font-size="9.4" text-anchor="start" font-weight="normal" fill="#111" transform="rotate(45 86 369.5)" >mEGFP/ShadowY</text>
<text x="124.80" y="231.20" font-size="17.5" text-anchor="start" font-weight="bold" fill="#000" >f</text>
<line x1="176.30" y1="235.75" x2="176.30" y2="358.50" stroke="#333" stroke-width="1.1"/>
<line x1="168.50" y1="358.00" x2="257.80" y2="358.00" stroke="#333" stroke-width="1.1"/>
<line x1="168.50" y1="358.00" x2="176.30" y2="358.00" stroke="#333" stroke-width="1.1"/>
<text x="165.00" y="362.40" font-size="10.8" text-anchor="end" font-weight="normal" fill="#111" >0.00</text>
<line x1="168.50" y1="333.65" x2="176.30" y2="333.65" stroke="#333" stroke-width="1.1"/>
<text x="165.00" y="338.05" font-size="10.8" text-anchor="end" font-weight="normal" fill="#111" >0.05</text>
<line x1="168.50" y1="309.30" x2="176.30" y2="309.30" stroke="#333" stroke-width="1.1"/>
<text x="165.00" y="313.70" font-size="10.8" text-anchor="end" font-weight="normal" fill="#111" >0.10</text>
<line x1="168.50" y1="284.95" x2="176.30" y2="284.95" stroke="#333" stroke-width="1.1"/>
<text x="165.00" y="289.35" font-size="10.8" text-anchor="end" font-weight="normal" fill="#111" >0.15</text>
<line x1="168.50" y1="260.60" x2="176.30" y2="260.60" stroke="#333" stroke-width="1.1"/>
<text x="165.00" y="265.00" font-size="10.8" text-anchor="end" font-weight="normal" fill="#111" >0.20</text>
<line x1="168.50" y1="236.25" x2="176.30" y2="236.25" stroke="#333" stroke-width="1.1"/>
<text x="165.00" y="240.65" font-size="10.8" text-anchor="end" font-weight="normal" fill="#111" >0.25</text>
<line x1="172.50" y1="345.82" x2="176.30" y2="345.82" stroke="#333" stroke-width="1.1"/>
<line x1="172.50" y1="321.48" x2="176.30" y2="321.48" stroke="#333" stroke-width="1.1"/>
<line x1="172.50" y1="297.12" x2="176.30" y2="297.12" stroke="#333" stroke-width="1.1"/>
<line x1="172.50" y1="272.77" x2="176.30" y2="272.77" stroke="#333" stroke-width="1.1"/>
<line x1="172.50" y1="248.43" x2="176.30" y2="248.43" stroke="#333" stroke-width="1.1"/>
<text x="140.50" y="297.00" font-size="11.5" text-anchor="middle" font-weight="normal" fill="#111" transform="rotate(-90 140.5 297)" >Lifetime change (ns)</text>
<rect x="185.40" y="291.28" width="10.00" height="66.72" fill="#c2c2c2" stroke="#404040" stroke-width="1.1" rx="0" />
<line x1="190.40" y1="288.50" x2="190.40" y2="291.28" stroke="#333" stroke-width="1"/>
<line x1="188.90" y1="288.50" x2="191.90" y2="288.50" stroke="#333" stroke-width="0.8"/>
<rect x="202.60" y="265.71" width="10.00" height="92.29" fill="#c2c2c2" stroke="#404040" stroke-width="1.1" rx="0" />
<line x1="207.60" y1="262.90" x2="207.60" y2="265.71" stroke="#333" stroke-width="1"/>
<line x1="206.10" y1="262.90" x2="209.10" y2="262.90" stroke="#333" stroke-width="0.8"/>
<rect x="219.40" y="251.59" width="10.60" height="106.41" fill="#c2c2c2" stroke="#404040" stroke-width="1.1" rx="0" />
<line x1="224.70" y1="250.40" x2="224.70" y2="251.59" stroke="#333" stroke-width="1"/>
<line x1="223.20" y1="250.40" x2="226.20" y2="250.40" stroke="#333" stroke-width="0.8"/>
<rect x="236.30" y="246.48" width="11.00" height="111.52" fill="#c2c2c2" stroke="#404040" stroke-width="1.1" rx="0" />
<line x1="241.80" y1="246.20" x2="241.80" y2="246.48" stroke="#333" stroke-width="1"/>
<line x1="240.30" y1="246.20" x2="243.30" y2="246.20" stroke="#333" stroke-width="0.8"/>
<line x1="190.50" y1="358.00" x2="190.50" y2="362.70" stroke="#333" stroke-width="1"/>
<line x1="207.60" y1="358.00" x2="207.60" y2="362.70" stroke="#333" stroke-width="1"/>
<line x1="224.70" y1="358.00" x2="224.70" y2="362.70" stroke="#333" stroke-width="1"/>
<line x1="241.80" y1="358.00" x2="241.80" y2="362.70" stroke="#333" stroke-width="1"/>
<line x1="186.30" y1="260.90" x2="208.30" y2="260.90" stroke="#333" stroke-width="1.1"/>
<text x="197.70" y="263.30" font-size="9.8" text-anchor="middle" font-weight="bold" fill="#222" >*</text>
<line x1="204.30" y1="246.40" x2="225.70" y2="246.40" stroke="#333" stroke-width="1.1"/>
<text x="215.40" y="248.80" font-size="9.8" text-anchor="middle" font-weight="bold" fill="#222" >*</text>
<line x1="186.30" y1="237.00" x2="225.70" y2="237.00" stroke="#333" stroke-width="1.1"/>
<text x="205.70" y="239.40" font-size="9.8" text-anchor="middle" font-weight="bold" fill="#222" >*</text>
<line x1="186.00" y1="227.30" x2="244.70" y2="227.30" stroke="#333" stroke-width="1.1"/>
<text x="215.00" y="229.70" font-size="9.8" text-anchor="middle" font-weight="bold" fill="#222" >*</text>
<line x1="222.30" y1="241.60" x2="243.70" y2="241.60" stroke="#333" stroke-width="1.1"/>
<text x="237.20" y="239.70" font-size="9.2" text-anchor="middle" font-weight="normal" fill="#111" >N.S.</text>
<text x="183.00" y="371.50" font-size="9.5" text-anchor="start" font-weight="normal" fill="#111" transform="rotate(45 183 371.5)" >Clover/sREACh</text>
<text x="201.80" y="371.50" font-size="9.5" text-anchor="start" font-weight="normal" fill="#111" transform="rotate(45 201.8 371.5)" >Clover/ShadowY</text>
<text x="219.5" y="371.5" font-size="9.5" fill="#111" transform="rotate(45 219.5 371.5)">Clover<tspan font-size="6.8">T153M</tspan>/ShadowY</text>
<text x="248" y="371.5" font-size="9.5" fill="#111" transform="rotate(45 248 371.5)">Clover<tspan font-size="6.8">T153M/F223R</tspan></text>
<text x="242.5" y="376.5" font-size="9.5" fill="#111" transform="rotate(45 242.5 376.5)">/ShadowY</text>
<text x="307.30" y="231.20" font-size="17.5" text-anchor="start" font-weight="bold" fill="#000" >g</text>
<line x1="349.50" y1="250.80" x2="349.50" y2="364.60" stroke="#333" stroke-width="1"/>
<line x1="349.50" y1="364.10" x2="453.00" y2="364.10" stroke="#333" stroke-width="1"/>
<line x1="456.00" y1="364.10" x2="466.00" y2="364.10" stroke="#333" stroke-width="1"/>
<line x1="346.50" y1="364.10" x2="349.50" y2="364.10" stroke="#333" stroke-width="1"/>
<text x="343.20" y="367.80" font-size="10.3" text-anchor="end" font-weight="normal" fill="#111" >1.7</text>
<line x1="346.50" y1="348.98" x2="349.50" y2="348.98" stroke="#333" stroke-width="1"/>
<text x="343.20" y="352.68" font-size="10.3" text-anchor="end" font-weight="normal" fill="#111" >1.8</text>
<line x1="346.50" y1="333.86" x2="349.50" y2="333.86" stroke="#333" stroke-width="1"/>
<text x="343.20" y="337.56" font-size="10.3" text-anchor="end" font-weight="normal" fill="#111" >1.9</text>
<line x1="346.50" y1="318.74" x2="349.50" y2="318.74" stroke="#333" stroke-width="1"/>
<text x="343.20" y="322.44" font-size="10.3" text-anchor="end" font-weight="normal" fill="#111" >2</text>
<line x1="346.50" y1="303.62" x2="349.50" y2="303.62" stroke="#333" stroke-width="1"/>
<text x="343.20" y="307.32" font-size="10.3" text-anchor="end" font-weight="normal" fill="#111" >2.1</text>
<line x1="346.50" y1="288.50" x2="349.50" y2="288.50" stroke="#333" stroke-width="1"/>
<text x="343.20" y="292.20" font-size="10.3" text-anchor="end" font-weight="normal" fill="#111" >2.2</text>
<line x1="346.50" y1="273.38" x2="349.50" y2="273.38" stroke="#333" stroke-width="1"/>
<text x="343.20" y="277.08" font-size="10.3" text-anchor="end" font-weight="normal" fill="#111" >2.3</text>
<line x1="346.50" y1="258.26" x2="349.50" y2="258.26" stroke="#333" stroke-width="1"/>
<text x="343.20" y="261.96" font-size="10.3" text-anchor="end" font-weight="normal" fill="#111" >2.4</text>
<line x1="349.50" y1="364.10" x2="349.50" y2="367.60" stroke="#333" stroke-width="1"/>
<line x1="378.50" y1="364.10" x2="378.50" y2="367.60" stroke="#333" stroke-width="1"/>
<line x1="407.40" y1="364.10" x2="407.40" y2="367.60" stroke="#333" stroke-width="1"/>
<line x1="436.60" y1="364.10" x2="436.60" y2="367.60" stroke="#333" stroke-width="1"/>
<text x="394.30" y="383.60" font-size="11.5" text-anchor="start" font-weight="normal" fill="#111" >Cell #</text>
<text x="323.50" y="305.45" font-size="10.8" text-anchor="middle" font-weight="normal" fill="#111" transform="rotate(-90 323.5 305.45000000000005)" >Fluorescence lifetime (ns)</text>
<text x="364.90" y="248.20" font-size="10.8" text-anchor="start" font-weight="normal" fill="#111" >mEGFP/sREACh</text>
<text x="360.00" y="357.00" font-size="12" text-anchor="start" font-weight="normal" fill="#111" >n=70</text>
<circle cx="350.93" cy="283.33" r="1.85" fill="#e41a1c" stroke="none" stroke-width="1"/>
<circle cx="352.41" cy="282.78" r="1.85" fill="#e41a1c" stroke="none" stroke-width="1"/>
<circle cx="353.33" cy="285.19" r="1.85" fill="#e41a1c" stroke="none" stroke-width="1"/>
<circle cx="355.19" cy="288.89" r="1.85" fill="#e41a1c" stroke="none" stroke-width="1"/>
<circle cx="356.48" cy="293.52" r="1.85" fill="#e41a1c" stroke="none" stroke-width="1"/>
<circle cx="357.96" cy="294.44" r="1.85" fill="#e41a1c" stroke="none" stroke-width="1"/>
<circle cx="358.33" cy="300.00" r="1.85" fill="#e41a1c" stroke="none" stroke-width="1"/>
<circle cx="360.74" cy="289.81" r="1.85" fill="#e41a1c" stroke="none" stroke-width="1"/>
<circle cx="362.59" cy="288.89" r="1.85" fill="#e41a1c" stroke="none" stroke-width="1"/>
<circle cx="363.52" cy="289.81" r="1.85" fill="#e41a1c" stroke="none" stroke-width="1"/>
<circle cx="365.00" cy="290.74" r="1.85" fill="#e41a1c" stroke="none" stroke-width="1"/>
<circle cx="366.85" cy="299.07" r="1.85" fill="#e41a1c" stroke="none" stroke-width="1"/>
<circle cx="368.15" cy="292.59" r="1.85" fill="#e41a1c" stroke="none" stroke-width="1"/>
<circle cx="370.00" cy="295.37" r="1.85" fill="#e41a1c" stroke="none" stroke-width="1"/>
<circle cx="371.85" cy="297.22" r="1.85" fill="#e41a1c" stroke="none" stroke-width="1"/>
<circle cx="373.70" cy="298.15" r="1.85" fill="#e41a1c" stroke="none" stroke-width="1"/>
<circle cx="374.63" cy="296.30" r="1.85" fill="#e41a1c" stroke="none" stroke-width="1"/>
<circle cx="376.48" cy="291.67" r="1.85" fill="#e41a1c" stroke="none" stroke-width="1"/>
<circle cx="378.33" cy="292.59" r="1.85" fill="#e41a1c" stroke="none" stroke-width="1"/>
<circle cx="380.19" cy="293.52" r="1.85" fill="#e41a1c" stroke="none" stroke-width="1"/>
<circle cx="380.19" cy="301.85" r="1.85" fill="#e41a1c" stroke="none" stroke-width="1"/>
<circle cx="382.04" cy="302.78" r="1.85" fill="#e41a1c" stroke="none" stroke-width="1"/>
<circle cx="382.96" cy="294.44" r="1.85" fill="#e41a1c" stroke="none" stroke-width="1"/>
<circle cx="384.81" cy="296.30" r="1.85" fill="#e41a1c" stroke="none" stroke-width="1"/>
<circle cx="386.67" cy="295.37" r="1.85" fill="#e41a1c" stroke="none" stroke-width="1"/>
<circle cx="388.52" cy="292.59" r="1.85" fill="#e41a1c" stroke="none" stroke-width="1"/>
<circle cx="389.44" cy="299.07" r="1.85" fill="#e41a1c" stroke="none" stroke-width="1"/>
<circle cx="390.37" cy="300.93" r="1.85" fill="#e41a1c" stroke="none" stroke-width="1"/>
<circle cx="392.22" cy="293.52" r="1.85" fill="#e41a1c" stroke="none" stroke-width="1"/>
<circle cx="393.15" cy="303.70" r="1.85" fill="#e41a1c" stroke="none" stroke-width="1"/>
<circle cx="394.07" cy="294.44" r="1.85" fill="#e41a1c" stroke="none" stroke-width="1"/>
<circle cx="395.93" cy="296.30" r="1.85" fill="#e41a1c" stroke="none" stroke-width="1"/>
<circle cx="397.78" cy="295.37" r="1.85" fill="#e41a1c" stroke="none" stroke-width="1"/>
<circle cx="399.63" cy="297.22" r="1.85" fill="#e41a1c" stroke="none" stroke-width="1"/>
<circle cx="401.48" cy="299.07" r="1.85" fill="#e41a1c" stroke="none" stroke-width="1"/>
<circle cx="402.41" cy="300.93" r="1.85" fill="#e41a1c" stroke="none" stroke-width="1"/>
<circle cx="403.89" cy="301.85" r="1.85" fill="#e41a1c" stroke="none" stroke-width="1"/>
<circle cx="405.19" cy="303.70" r="1.85" fill="#e41a1c" stroke="none" stroke-width="1"/>
<circle cx="406.11" cy="299.07" r="1.85" fill="#e41a1c" stroke="none" stroke-width="1"/>
<circle cx="407.96" cy="298.15" r="1.85" fill="#e41a1c" stroke="none" stroke-width="1"/>
<circle cx="409.81" cy="299.07" r="1.85" fill="#e41a1c" stroke="none" stroke-width="1"/>
<circle cx="410.74" cy="304.63" r="1.85" fill="#e41a1c" stroke="none" stroke-width="1"/>
<circle cx="411.67" cy="300.00" r="1.85" fill="#e41a1c" stroke="none" stroke-width="1"/>
<circle cx="413.15" cy="310.19" r="1.85" fill="#e41a1c" stroke="none" stroke-width="1"/>
<circle cx="414.44" cy="295.37" r="1.85" fill="#e41a1c" stroke="none" stroke-width="1"/>
<circle cx="416.30" cy="298.15" r="1.85" fill="#e41a1c" stroke="none" stroke-width="1"/>
<circle cx="418.15" cy="299.07" r="1.85" fill="#e41a1c" stroke="none" stroke-width="1"/>
<circle cx="420.00" cy="307.41" r="1.85" fill="#e41a1c" stroke="none" stroke-width="1"/>
<circle cx="421.85" cy="308.33" r="1.85" fill="#e41a1c" stroke="none" stroke-width="1"/>
<circle cx="423.70" cy="302.78" r="1.85" fill="#e41a1c" stroke="none" stroke-width="1"/>
<circle cx="424.63" cy="309.26" r="1.85" fill="#e41a1c" stroke="none" stroke-width="1"/>
<circle cx="426.48" cy="302.78" r="1.85" fill="#e41a1c" stroke="none" stroke-width="1"/>
<circle cx="427.41" cy="313.89" r="1.85" fill="#e41a1c" stroke="none" stroke-width="1"/>
<circle cx="429.26" cy="308.33" r="1.85" fill="#e41a1c" stroke="none" stroke-width="1"/>
<circle cx="431.11" cy="304.63" r="1.85" fill="#e41a1c" stroke="none" stroke-width="1"/>
<circle cx="432.96" cy="302.78" r="1.85" fill="#e41a1c" stroke="none" stroke-width="1"/>
<circle cx="434.81" cy="304.63" r="1.85" fill="#e41a1c" stroke="none" stroke-width="1"/>
<circle cx="436.67" cy="306.48" r="1.85" fill="#e41a1c" stroke="none" stroke-width="1"/>
<circle cx="438.52" cy="312.04" r="1.85" fill="#e41a1c" stroke="none" stroke-width="1"/>
<circle cx="440.37" cy="312.96" r="1.85" fill="#e41a1c" stroke="none" stroke-width="1"/>
<circle cx="442.22" cy="305.56" r="1.85" fill="#e41a1c" stroke="none" stroke-width="1"/>
<circle cx="444.07" cy="314.81" r="1.85" fill="#e41a1c" stroke="none" stroke-width="1"/>
<circle cx="445.93" cy="315.74" r="1.85" fill="#e41a1c" stroke="none" stroke-width="1"/>
<circle cx="447.78" cy="313.89" r="1.85" fill="#e41a1c" stroke="none" stroke-width="1"/>
<circle cx="449.63" cy="312.04" r="1.85" fill="#e41a1c" stroke="none" stroke-width="1"/>
<circle cx="450.56" cy="320.37" r="1.85" fill="#e41a1c" stroke="none" stroke-width="1"/>
<circle cx="350.50" cy="303.62" r="1.7" fill="#000" stroke="none" stroke-width="1"/>
<circle cx="351.96" cy="303.93" r="1.7" fill="#000" stroke="none" stroke-width="1"/>
<circle cx="353.41" cy="304.25" r="1.7" fill="#000" stroke="none" stroke-width="1"/>
<circle cx="354.87" cy="305.40" r="1.7" fill="#000" stroke="none" stroke-width="1"/>
<circle cx="356.33" cy="307.15" r="1.7" fill="#000" stroke="none" stroke-width="1"/>
<circle cx="357.78" cy="309.44" r="1.7" fill="#000" stroke="none" stroke-width="1"/>
<circle cx="359.24" cy="311.55" r="1.7" fill="#000" stroke="none" stroke-width="1"/>
<circle cx="360.70" cy="312.08" r="1.7" fill="#000" stroke="none" stroke-width="1"/>
<circle cx="362.15" cy="312.64" r="1.7" fill="#000" stroke="none" stroke-width="1"/>
<circle cx="363.61" cy="313.25" r="1.7" fill="#000" stroke="none" stroke-width="1"/>
<circle cx="365.07" cy="313.86" r="1.7" fill="#000" stroke="none" stroke-width="1"/>
<circle cx="366.52" cy="314.53" r="1.7" fill="#000" stroke="none" stroke-width="1"/>
<circle cx="367.98" cy="315.28" r="1.7" fill="#000" stroke="none" stroke-width="1"/>
<circle cx="369.43" cy="316.02" r="1.7" fill="#000" stroke="none" stroke-width="1"/>
<circle cx="370.89" cy="316.76" r="1.7" fill="#000" stroke="none" stroke-width="1"/>
<circle cx="372.35" cy="317.41" r="1.7" fill="#000" stroke="none" stroke-width="1"/>
<circle cx="373.80" cy="317.89" r="1.7" fill="#000" stroke="none" stroke-width="1"/>
<circle cx="375.26" cy="318.37" r="1.7" fill="#000" stroke="none" stroke-width="1"/>
<circle cx="376.72" cy="318.86" r="1.7" fill="#000" stroke="none" stroke-width="1"/>
<circle cx="378.17" cy="319.38" r="1.7" fill="#000" stroke="none" stroke-width="1"/>
<circle cx="379.63" cy="319.99" r="1.7" fill="#000" stroke="none" stroke-width="1"/>
<circle cx="381.09" cy="320.60" r="1.7" fill="#000" stroke="none" stroke-width="1"/>
<circle cx="382.54" cy="321.21" r="1.7" fill="#000" stroke="none" stroke-width="1"/>
<circle cx="384.00" cy="321.82" r="1.7" fill="#000" stroke="none" stroke-width="1"/>
<circle cx="385.46" cy="322.43" r="1.7" fill="#000" stroke="none" stroke-width="1"/>
<circle cx="386.91" cy="322.71" r="1.7" fill="#000" stroke="none" stroke-width="1"/>
<circle cx="388.37" cy="322.93" r="1.7" fill="#000" stroke="none" stroke-width="1"/>
<circle cx="389.83" cy="323.16" r="1.7" fill="#000" stroke="none" stroke-width="1"/>
<circle cx="391.28" cy="323.38" r="1.7" fill="#000" stroke="none" stroke-width="1"/>
<circle cx="392.74" cy="323.60" r="1.7" fill="#000" stroke="none" stroke-width="1"/>
<circle cx="394.20" cy="323.83" r="1.7" fill="#000" stroke="none" stroke-width="1"/>
<circle cx="395.65" cy="324.05" r="1.7" fill="#000" stroke="none" stroke-width="1"/>
<circle cx="397.11" cy="324.27" r="1.7" fill="#000" stroke="none" stroke-width="1"/>
<circle cx="398.57" cy="324.49" r="1.7" fill="#000" stroke="none" stroke-width="1"/>
<circle cx="400.02" cy="324.72" r="1.7" fill="#000" stroke="none" stroke-width="1"/>
<circle cx="401.48" cy="324.94" r="1.7" fill="#000" stroke="none" stroke-width="1"/>
<circle cx="402.93" cy="325.16" r="1.7" fill="#000" stroke="none" stroke-width="1"/>
<circle cx="404.39" cy="325.38" r="1.7" fill="#000" stroke="none" stroke-width="1"/>
<circle cx="405.85" cy="325.60" r="1.7" fill="#000" stroke="none" stroke-width="1"/>
<circle cx="407.30" cy="325.83" r="1.7" fill="#000" stroke="none" stroke-width="1"/>
<circle cx="408.76" cy="326.05" r="1.7" fill="#000" stroke="none" stroke-width="1"/>
<circle cx="410.22" cy="326.27" r="1.7" fill="#000" stroke="none" stroke-width="1"/>
<circle cx="411.67" cy="326.50" r="1.7" fill="#000" stroke="none" stroke-width="1"/>
<circle cx="413.13" cy="326.72" r="1.7" fill="#000" stroke="none" stroke-width="1"/>
<circle cx="414.59" cy="326.94" r="1.7" fill="#000" stroke="none" stroke-width="1"/>
<circle cx="416.04" cy="327.15" r="1.7" fill="#000" stroke="none" stroke-width="1"/>
<circle cx="417.50" cy="327.33" r="1.7" fill="#000" stroke="none" stroke-width="1"/>
<circle cx="418.96" cy="327.52" r="1.7" fill="#000" stroke="none" stroke-width="1"/>
<circle cx="420.41" cy="327.71" r="1.7" fill="#000" stroke="none" stroke-width="1"/>
<circle cx="421.87" cy="328.05" r="1.7" fill="#000" stroke="none" stroke-width="1"/>
<circle cx="423.33" cy="328.60" r="1.7" fill="#000" stroke="none" stroke-width="1"/>
<circle cx="424.78" cy="329.16" r="1.7" fill="#000" stroke="none" stroke-width="1"/>
<circle cx="426.24" cy="329.71" r="1.7" fill="#000" stroke="none" stroke-width="1"/>
<circle cx="427.70" cy="330.27" r="1.7" fill="#000" stroke="none" stroke-width="1"/>
<circle cx="429.15" cy="330.82" r="1.7" fill="#000" stroke="none" stroke-width="1"/>
<circle cx="430.61" cy="331.38" r="1.7" fill="#000" stroke="none" stroke-width="1"/>
<circle cx="432.07" cy="331.93" r="1.7" fill="#000" stroke="none" stroke-width="1"/>
<circle cx="433.52" cy="332.49" r="1.7" fill="#000" stroke="none" stroke-width="1"/>
<circle cx="434.98" cy="333.04" r="1.7" fill="#000" stroke="none" stroke-width="1"/>
<circle cx="436.43" cy="333.59" r="1.7" fill="#000" stroke="none" stroke-width="1"/>
<circle cx="437.89" cy="334.22" r="1.7" fill="#000" stroke="none" stroke-width="1"/>
<circle cx="439.35" cy="334.92" r="1.7" fill="#000" stroke="none" stroke-width="1"/>
<circle cx="440.80" cy="335.61" r="1.7" fill="#000" stroke="none" stroke-width="1"/>
<circle cx="442.26" cy="336.30" r="1.7" fill="#000" stroke="none" stroke-width="1"/>
<circle cx="443.72" cy="337.00" r="1.7" fill="#000" stroke="none" stroke-width="1"/>
<circle cx="445.17" cy="337.68" r="1.7" fill="#000" stroke="none" stroke-width="1"/>
<circle cx="446.63" cy="338.24" r="1.7" fill="#000" stroke="none" stroke-width="1"/>
<circle cx="448.09" cy="338.79" r="1.7" fill="#000" stroke="none" stroke-width="1"/>
<circle cx="449.54" cy="339.35" r="1.7" fill="#000" stroke="none" stroke-width="1"/>
<circle cx="451.00" cy="339.91" r="1.7" fill="#000" stroke="none" stroke-width="1"/>
<line x1="458.00" y1="332.65" x2="458.00" y2="316.02" stroke="#111" stroke-width="1"/>
<circle cx="458.00" cy="324.33" r="1.9" fill="#000" stroke="none" stroke-width="1"/>
<line x1="460.60" y1="308.16" x2="460.60" y2="293.04" stroke="#e41a1c" stroke-width="1"/>
<circle cx="460.60" cy="300.60" r="1.9" fill="#e41a1c" stroke="none" stroke-width="1"/>
<text x="484.30" y="231.30" font-size="17.5" text-anchor="start" font-weight="bold" fill="#000" >h</text>
<line x1="521.60" y1="251.30" x2="521.60" y2="364.90" stroke="#333" stroke-width="1"/>
<line x1="521.60" y1="364.40" x2="623.00" y2="364.40" stroke="#333" stroke-width="1"/>
<line x1="628.00" y1="364.40" x2="636.00" y2="364.40" stroke="#333" stroke-width="1"/>
<line x1="518.60" y1="364.40" x2="521.60" y2="364.40" stroke="#333" stroke-width="1"/>
<text x="515.30" y="368.10" font-size="10.3" text-anchor="end" font-weight="normal" fill="#111" >1.7</text>
<line x1="518.60" y1="349.28" x2="521.60" y2="349.28" stroke="#333" stroke-width="1"/>
<text x="515.30" y="352.98" font-size="10.3" text-anchor="end" font-weight="normal" fill="#111" >1.8</text>
<line x1="518.60" y1="334.16" x2="521.60" y2="334.16" stroke="#333" stroke-width="1"/>
<text x="515.30" y="337.86" font-size="10.3" text-anchor="end" font-weight="normal" fill="#111" >1.9</text>
<line x1="518.60" y1="319.04" x2="521.60" y2="319.04" stroke="#333" stroke-width="1"/>
<text x="515.30" y="322.74" font-size="10.3" text-anchor="end" font-weight="normal" fill="#111" >2</text>
<line x1="518.60" y1="303.92" x2="521.60" y2="303.92" stroke="#333" stroke-width="1"/>
<text x="515.30" y="307.62" font-size="10.3" text-anchor="end" font-weight="normal" fill="#111" >2.1</text>
<line x1="518.60" y1="288.80" x2="521.60" y2="288.80" stroke="#333" stroke-width="1"/>
<text x="515.30" y="292.50" font-size="10.3" text-anchor="end" font-weight="normal" fill="#111" >2.2</text>
<line x1="518.60" y1="273.68" x2="521.60" y2="273.68" stroke="#333" stroke-width="1"/>
<text x="515.30" y="277.38" font-size="10.3" text-anchor="end" font-weight="normal" fill="#111" >2.3</text>
<line x1="518.60" y1="258.56" x2="521.60" y2="258.56" stroke="#333" stroke-width="1"/>
<text x="515.30" y="262.26" font-size="10.3" text-anchor="end" font-weight="normal" fill="#111" >2.4</text>
<line x1="521.60" y1="364.40" x2="521.60" y2="367.90" stroke="#333" stroke-width="1"/>
<line x1="548.60" y1="364.40" x2="548.60" y2="367.90" stroke="#333" stroke-width="1"/>
<line x1="576.40" y1="364.40" x2="576.40" y2="367.90" stroke="#333" stroke-width="1"/>
<line x1="604.00" y1="364.40" x2="604.00" y2="367.90" stroke="#333" stroke-width="1"/>
<text x="562.00" y="383.90" font-size="11.5" text-anchor="start" font-weight="normal" fill="#111" >Cell #</text>
<text x="495.60" y="305.85" font-size="10.8" text-anchor="middle" font-weight="normal" fill="#111" transform="rotate(-90 495.6 305.85)" >Fluorescence lifetime (ns)</text>
<text x="534.00" y="248.20" font-size="10.8" text-anchor="start" font-weight="normal" fill="#111" >mEGFP/ShadowY</text>
<text x="530.60" y="357.00" font-size="12" text-anchor="start" font-weight="normal" fill="#111" >n=73</text>
<circle cx="522.19" cy="288.89" r="1.85" fill="#e41a1c" stroke="none" stroke-width="1"/>
<circle cx="524.04" cy="289.63" r="1.85" fill="#e41a1c" stroke="none" stroke-width="1"/>
<circle cx="525.33" cy="298.15" r="1.85" fill="#e41a1c" stroke="none" stroke-width="1"/>
<circle cx="527.19" cy="292.04" r="1.85" fill="#e41a1c" stroke="none" stroke-width="1"/>
<circle cx="529.04" cy="293.89" r="1.85" fill="#e41a1c" stroke="none" stroke-width="1"/>
<circle cx="530.89" cy="292.96" r="1.85" fill="#e41a1c" stroke="none" stroke-width="1"/>
<circle cx="532.74" cy="294.81" r="1.85" fill="#e41a1c" stroke="none" stroke-width="1"/>
<circle cx="534.59" cy="296.67" r="1.85" fill="#e41a1c" stroke="none" stroke-width="1"/>
<circle cx="536.44" cy="297.59" r="1.85" fill="#e41a1c" stroke="none" stroke-width="1"/>
<circle cx="538.30" cy="296.67" r="1.85" fill="#e41a1c" stroke="none" stroke-width="1"/>
<circle cx="540.15" cy="297.04" r="1.85" fill="#e41a1c" stroke="none" stroke-width="1"/>
<circle cx="542.00" cy="295.74" r="1.85" fill="#e41a1c" stroke="none" stroke-width="1"/>
<circle cx="543.85" cy="296.30" r="1.85" fill="#e41a1c" stroke="none" stroke-width="1"/>
<circle cx="545.70" cy="292.96" r="1.85" fill="#e41a1c" stroke="none" stroke-width="1"/>
<circle cx="547.00" cy="291.48" r="1.85" fill="#e41a1c" stroke="none" stroke-width="1"/>
<circle cx="548.48" cy="294.81" r="1.85" fill="#e41a1c" stroke="none" stroke-width="1"/>
<circle cx="549.96" cy="299.44" r="1.85" fill="#e41a1c" stroke="none" stroke-width="1"/>
<circle cx="551.26" cy="297.59" r="1.85" fill="#e41a1c" stroke="none" stroke-width="1"/>
<circle cx="553.11" cy="293.89" r="1.85" fill="#e41a1c" stroke="none" stroke-width="1"/>
<circle cx="554.04" cy="298.52" r="1.85" fill="#e41a1c" stroke="none" stroke-width="1"/>
<circle cx="555.89" cy="296.67" r="1.85" fill="#e41a1c" stroke="none" stroke-width="1"/>
<circle cx="556.81" cy="291.11" r="1.85" fill="#e41a1c" stroke="none" stroke-width="1"/>
<circle cx="558.67" cy="294.81" r="1.85" fill="#e41a1c" stroke="none" stroke-width="1"/>
<circle cx="560.52" cy="297.59" r="1.85" fill="#e41a1c" stroke="none" stroke-width="1"/>
<circle cx="561.44" cy="300.00" r="1.85" fill="#e41a1c" stroke="none" stroke-width="1"/>
<circle cx="563.30" cy="294.81" r="1.85" fill="#e41a1c" stroke="none" stroke-width="1"/>
<circle cx="564.78" cy="296.67" r="1.85" fill="#e41a1c" stroke="none" stroke-width="1"/>
<circle cx="566.07" cy="298.52" r="1.85" fill="#e41a1c" stroke="none" stroke-width="1"/>
<circle cx="567.93" cy="295.19" r="1.85" fill="#e41a1c" stroke="none" stroke-width="1"/>
<circle cx="569.78" cy="296.67" r="1.85" fill="#e41a1c" stroke="none" stroke-width="1"/>
<circle cx="571.63" cy="297.59" r="1.85" fill="#e41a1c" stroke="none" stroke-width="1"/>
<circle cx="572.56" cy="303.15" r="1.85" fill="#e41a1c" stroke="none" stroke-width="1"/>
<circle cx="574.41" cy="297.04" r="1.85" fill="#e41a1c" stroke="none" stroke-width="1"/>
<circle cx="576.26" cy="298.52" r="1.85" fill="#e41a1c" stroke="none" stroke-width="1"/>
<circle cx="578.11" cy="298.15" r="1.85" fill="#e41a1c" stroke="none" stroke-width="1"/>
<circle cx="579.96" cy="297.59" r="1.85" fill="#e41a1c" stroke="none" stroke-width="1"/>
<circle cx="581.81" cy="298.52" r="1.85" fill="#e41a1c" stroke="none" stroke-width="1"/>
<circle cx="583.67" cy="297.04" r="1.85" fill="#e41a1c" stroke="none" stroke-width="1"/>
<circle cx="585.15" cy="296.67" r="1.85" fill="#e41a1c" stroke="none" stroke-width="1"/>
<circle cx="583.67" cy="309.26" r="1.85" fill="#e41a1c" stroke="none" stroke-width="1"/>
<circle cx="586.44" cy="307.78" r="1.85" fill="#e41a1c" stroke="none" stroke-width="1"/>
<circle cx="588.30" cy="306.85" r="1.85" fill="#e41a1c" stroke="none" stroke-width="1"/>
<circle cx="589.22" cy="301.30" r="1.85" fill="#e41a1c" stroke="none" stroke-width="1"/>
<circle cx="591.07" cy="307.78" r="1.85" fill="#e41a1c" stroke="none" stroke-width="1"/>
<circle cx="592.00" cy="304.07" r="1.85" fill="#e41a1c" stroke="none" stroke-width="1"/>
<circle cx="593.85" cy="303.15" r="1.85" fill="#e41a1c" stroke="none" stroke-width="1"/>
<circle cx="595.70" cy="302.22" r="1.85" fill="#e41a1c" stroke="none" stroke-width="1"/>
<circle cx="597.56" cy="304.07" r="1.85" fill="#e41a1c" stroke="none" stroke-width="1"/>
<circle cx="599.41" cy="300.37" r="1.85" fill="#e41a1c" stroke="none" stroke-width="1"/>
<circle cx="601.26" cy="301.30" r="1.85" fill="#e41a1c" stroke="none" stroke-width="1"/>
<circle cx="602.56" cy="306.85" r="1.85" fill="#e41a1c" stroke="none" stroke-width="1"/>
<circle cx="604.04" cy="300.37" r="1.85" fill="#e41a1c" stroke="none" stroke-width="1"/>
<circle cx="605.89" cy="304.07" r="1.85" fill="#e41a1c" stroke="none" stroke-width="1"/>
<circle cx="607.74" cy="305.00" r="1.85" fill="#e41a1c" stroke="none" stroke-width="1"/>
<circle cx="609.59" cy="303.15" r="1.85" fill="#e41a1c" stroke="none" stroke-width="1"/>
<circle cx="611.44" cy="304.07" r="1.85" fill="#e41a1c" stroke="none" stroke-width="1"/>
<circle cx="613.30" cy="303.70" r="1.85" fill="#e41a1c" stroke="none" stroke-width="1"/>
<circle cx="615.15" cy="313.33" r="1.85" fill="#e41a1c" stroke="none" stroke-width="1"/>
<circle cx="617.00" cy="312.41" r="1.85" fill="#e41a1c" stroke="none" stroke-width="1"/>
<circle cx="618.48" cy="313.33" r="1.85" fill="#e41a1c" stroke="none" stroke-width="1"/>
<circle cx="619.78" cy="319.81" r="1.85" fill="#e41a1c" stroke="none" stroke-width="1"/>
<circle cx="621.63" cy="319.81" r="1.85" fill="#e41a1c" stroke="none" stroke-width="1"/>
<circle cx="620.70" cy="315.19" r="1.85" fill="#e41a1c" stroke="none" stroke-width="1"/>
<circle cx="522.00" cy="311.03" r="1.7" fill="#000" stroke="none" stroke-width="1"/>
<circle cx="523.40" cy="312.02" r="1.7" fill="#000" stroke="none" stroke-width="1"/>
<circle cx="524.80" cy="313.01" r="1.7" fill="#000" stroke="none" stroke-width="1"/>
<circle cx="526.20" cy="314.00" r="1.7" fill="#000" stroke="none" stroke-width="1"/>
<circle cx="527.59" cy="315.07" r="1.7" fill="#000" stroke="none" stroke-width="1"/>
<circle cx="528.99" cy="317.97" r="1.7" fill="#000" stroke="none" stroke-width="1"/>
<circle cx="530.39" cy="320.87" r="1.7" fill="#000" stroke="none" stroke-width="1"/>
<circle cx="531.79" cy="321.58" r="1.7" fill="#000" stroke="none" stroke-width="1"/>
<circle cx="533.19" cy="322.18" r="1.7" fill="#000" stroke="none" stroke-width="1"/>
<circle cx="534.59" cy="322.78" r="1.7" fill="#000" stroke="none" stroke-width="1"/>
<circle cx="535.99" cy="323.19" r="1.7" fill="#000" stroke="none" stroke-width="1"/>
<circle cx="537.38" cy="323.35" r="1.7" fill="#000" stroke="none" stroke-width="1"/>
<circle cx="538.78" cy="323.51" r="1.7" fill="#000" stroke="none" stroke-width="1"/>
<circle cx="540.18" cy="323.67" r="1.7" fill="#000" stroke="none" stroke-width="1"/>
<circle cx="541.58" cy="323.83" r="1.7" fill="#000" stroke="none" stroke-width="1"/>
<circle cx="542.98" cy="323.98" r="1.7" fill="#000" stroke="none" stroke-width="1"/>
<circle cx="544.38" cy="324.14" r="1.7" fill="#000" stroke="none" stroke-width="1"/>
<circle cx="545.78" cy="324.30" r="1.7" fill="#000" stroke="none" stroke-width="1"/>
<circle cx="547.17" cy="324.46" r="1.7" fill="#000" stroke="none" stroke-width="1"/>
<circle cx="548.57" cy="324.70" r="1.7" fill="#000" stroke="none" stroke-width="1"/>
<circle cx="549.97" cy="324.96" r="1.7" fill="#000" stroke="none" stroke-width="1"/>
<circle cx="551.37" cy="325.21" r="1.7" fill="#000" stroke="none" stroke-width="1"/>
<circle cx="552.77" cy="325.46" r="1.7" fill="#000" stroke="none" stroke-width="1"/>
<circle cx="554.17" cy="325.72" r="1.7" fill="#000" stroke="none" stroke-width="1"/>
<circle cx="555.57" cy="325.97" r="1.7" fill="#000" stroke="none" stroke-width="1"/>
<circle cx="556.97" cy="326.23" r="1.7" fill="#000" stroke="none" stroke-width="1"/>
<circle cx="558.36" cy="326.48" r="1.7" fill="#000" stroke="none" stroke-width="1"/>
<circle cx="559.76" cy="326.74" r="1.7" fill="#000" stroke="none" stroke-width="1"/>
<circle cx="561.16" cy="326.99" r="1.7" fill="#000" stroke="none" stroke-width="1"/>
<circle cx="562.56" cy="327.25" r="1.7" fill="#000" stroke="none" stroke-width="1"/>
<circle cx="563.96" cy="327.50" r="1.7" fill="#000" stroke="none" stroke-width="1"/>
<circle cx="565.36" cy="327.76" r="1.7" fill="#000" stroke="none" stroke-width="1"/>
<circle cx="566.76" cy="328.01" r="1.7" fill="#000" stroke="none" stroke-width="1"/>
<circle cx="568.15" cy="328.24" r="1.7" fill="#000" stroke="none" stroke-width="1"/>
<circle cx="569.55" cy="328.45" r="1.7" fill="#000" stroke="none" stroke-width="1"/>
<circle cx="570.95" cy="328.66" r="1.7" fill="#000" stroke="none" stroke-width="1"/>
<circle cx="572.35" cy="328.88" r="1.7" fill="#000" stroke="none" stroke-width="1"/>
<circle cx="573.75" cy="329.09" r="1.7" fill="#000" stroke="none" stroke-width="1"/>
<circle cx="575.15" cy="329.30" r="1.7" fill="#000" stroke="none" stroke-width="1"/>
<circle cx="576.55" cy="329.51" r="1.7" fill="#000" stroke="none" stroke-width="1"/>
<circle cx="577.94" cy="329.72" r="1.7" fill="#000" stroke="none" stroke-width="1"/>
<circle cx="579.34" cy="329.94" r="1.7" fill="#000" stroke="none" stroke-width="1"/>
<circle cx="580.74" cy="330.15" r="1.7" fill="#000" stroke="none" stroke-width="1"/>
<circle cx="582.14" cy="330.36" r="1.7" fill="#000" stroke="none" stroke-width="1"/>
<circle cx="583.54" cy="330.57" r="1.7" fill="#000" stroke="none" stroke-width="1"/>
<circle cx="584.94" cy="330.78" r="1.7" fill="#000" stroke="none" stroke-width="1"/>
<circle cx="586.34" cy="331.00" r="1.7" fill="#000" stroke="none" stroke-width="1"/>
<circle cx="587.73" cy="331.28" r="1.7" fill="#000" stroke="none" stroke-width="1"/>
<circle cx="589.13" cy="331.69" r="1.7" fill="#000" stroke="none" stroke-width="1"/>
<circle cx="590.53" cy="332.10" r="1.7" fill="#000" stroke="none" stroke-width="1"/>
<circle cx="591.93" cy="332.51" r="1.7" fill="#000" stroke="none" stroke-width="1"/>
<circle cx="593.33" cy="332.92" r="1.7" fill="#000" stroke="none" stroke-width="1"/>
<circle cx="594.73" cy="333.33" r="1.7" fill="#000" stroke="none" stroke-width="1"/>
<circle cx="596.13" cy="333.74" r="1.7" fill="#000" stroke="none" stroke-width="1"/>
<circle cx="597.53" cy="334.15" r="1.7" fill="#000" stroke="none" stroke-width="1"/>
<circle cx="598.92" cy="334.56" r="1.7" fill="#000" stroke="none" stroke-width="1"/>
<circle cx="600.32" cy="334.98" r="1.7" fill="#000" stroke="none" stroke-width="1"/>
<circle cx="601.72" cy="335.33" r="1.7" fill="#000" stroke="none" stroke-width="1"/>
<circle cx="603.12" cy="335.61" r="1.7" fill="#000" stroke="none" stroke-width="1"/>
<circle cx="604.52" cy="335.88" r="1.7" fill="#000" stroke="none" stroke-width="1"/>
<circle cx="605.92" cy="336.16" r="1.7" fill="#000" stroke="none" stroke-width="1"/>
<circle cx="607.32" cy="336.43" r="1.7" fill="#000" stroke="none" stroke-width="1"/>
<circle cx="608.71" cy="336.71" r="1.7" fill="#000" stroke="none" stroke-width="1"/>
<circle cx="610.11" cy="336.99" r="1.7" fill="#000" stroke="none" stroke-width="1"/>
<circle cx="611.51" cy="337.48" r="1.7" fill="#000" stroke="none" stroke-width="1"/>
<circle cx="612.91" cy="338.53" r="1.7" fill="#000" stroke="none" stroke-width="1"/>
<circle cx="614.31" cy="339.58" r="1.7" fill="#000" stroke="none" stroke-width="1"/>
<circle cx="615.71" cy="340.92" r="1.7" fill="#000" stroke="none" stroke-width="1"/>
<circle cx="617.11" cy="342.71" r="1.7" fill="#000" stroke="none" stroke-width="1"/>
<circle cx="618.50" cy="344.49" r="1.7" fill="#000" stroke="none" stroke-width="1"/>
<circle cx="619.90" cy="345.63" r="1.7" fill="#000" stroke="none" stroke-width="1"/>
<circle cx="621.30" cy="346.17" r="1.7" fill="#000" stroke="none" stroke-width="1"/>
<circle cx="622.70" cy="346.71" r="1.7" fill="#000" stroke="none" stroke-width="1"/>
<line x1="630.60" y1="335.52" x2="630.60" y2="322.22" stroke="#111" stroke-width="1"/>
<circle cx="630.60" cy="328.87" r="1.9" fill="#000" stroke="none" stroke-width="1"/>
<line x1="633.40" y1="306.94" x2="633.40" y2="292.73" stroke="#e41a1c" stroke-width="1"/>
<circle cx="633.40" cy="299.84" r="1.9" fill="#e41a1c" stroke="none" stroke-width="1"/>
<text x="1.50" y="445.20" font-size="17.5" text-anchor="start" font-weight="bold" fill="#000" >i</text>
<line x1="35.80" y1="463.80" x2="35.80" y2="577.60" stroke="#333" stroke-width="1"/>
<line x1="35.80" y1="577.10" x2="139.40" y2="577.10" stroke="#333" stroke-width="1"/>
<line x1="142.50" y1="577.10" x2="149.80" y2="577.10" stroke="#333" stroke-width="1"/>
<line x1="32.80" y1="577.10" x2="35.80" y2="577.10" stroke="#333" stroke-width="1"/>
<text x="29.50" y="580.80" font-size="10.3" text-anchor="end" font-weight="normal" fill="#111" >1.7</text>
<line x1="32.80" y1="561.86" x2="35.80" y2="561.86" stroke="#333" stroke-width="1"/>
<text x="29.50" y="565.56" font-size="10.3" text-anchor="end" font-weight="normal" fill="#111" >1.8</text>
<line x1="32.80" y1="546.62" x2="35.80" y2="546.62" stroke="#333" stroke-width="1"/>
<text x="29.50" y="550.32" font-size="10.3" text-anchor="end" font-weight="normal" fill="#111" >1.9</text>
<line x1="32.80" y1="531.38" x2="35.80" y2="531.38" stroke="#333" stroke-width="1"/>
<text x="29.50" y="535.08" font-size="10.3" text-anchor="end" font-weight="normal" fill="#111" >2</text>
<line x1="32.80" y1="516.14" x2="35.80" y2="516.14" stroke="#333" stroke-width="1"/>
<text x="29.50" y="519.84" font-size="10.3" text-anchor="end" font-weight="normal" fill="#111" >2.1</text>
<line x1="32.80" y1="500.90" x2="35.80" y2="500.90" stroke="#333" stroke-width="1"/>
<text x="29.50" y="504.60" font-size="10.3" text-anchor="end" font-weight="normal" fill="#111" >2.2</text>
<line x1="32.80" y1="485.66" x2="35.80" y2="485.66" stroke="#333" stroke-width="1"/>
<text x="29.50" y="489.36" font-size="10.3" text-anchor="end" font-weight="normal" fill="#111" >2.3</text>
<line x1="32.80" y1="470.42" x2="35.80" y2="470.42" stroke="#333" stroke-width="1"/>
<text x="29.50" y="474.12" font-size="10.3" text-anchor="end" font-weight="normal" fill="#111" >2.4</text>
<line x1="35.80" y1="577.10" x2="35.80" y2="580.60" stroke="#333" stroke-width="1"/>
<line x1="61.70" y1="577.10" x2="61.70" y2="580.60" stroke="#333" stroke-width="1"/>
<line x1="87.70" y1="577.10" x2="87.70" y2="580.60" stroke="#333" stroke-width="1"/>
<line x1="113.30" y1="577.10" x2="113.30" y2="580.60" stroke="#333" stroke-width="1"/>
<text x="74.10" y="596.60" font-size="11.5" text-anchor="start" font-weight="normal" fill="#111" >Cell #</text>
<text x="9.80" y="518.45" font-size="10.8" text-anchor="middle" font-weight="normal" fill="#111" transform="rotate(-90 9.799999999999997 518.45)" >Fluorescence lifetime (ns)</text>
<text x="49.40" y="460.80" font-size="10.8" text-anchor="start" font-weight="normal" fill="#111" >Clover/sREACh</text>
<text x="44.00" y="569.30" font-size="12" text-anchor="start" font-weight="normal" fill="#111" >n=79</text>
<circle cx="37.07" cy="481.84" r="1.85" fill="#e41a1c" stroke="none" stroke-width="1"/>
<circle cx="38.70" cy="489.99" r="1.85" fill="#e41a1c" stroke="none" stroke-width="1"/>
<circle cx="40.82" cy="490.48" r="1.85" fill="#e41a1c" stroke="none" stroke-width="1"/>
<circle cx="42.45" cy="500.26" r="1.85" fill="#e41a1c" stroke="none" stroke-width="1"/>
<circle cx="43.59" cy="504.34" r="1.85" fill="#e41a1c" stroke="none" stroke-width="1"/>
<circle cx="45.22" cy="503.52" r="1.85" fill="#e41a1c" stroke="none" stroke-width="1"/>
<circle cx="46.04" cy="497.00" r="1.85" fill="#e41a1c" stroke="none" stroke-width="1"/>
<circle cx="47.67" cy="498.63" r="1.85" fill="#e41a1c" stroke="none" stroke-width="1"/>
<circle cx="49.30" cy="499.45" r="1.85" fill="#e41a1c" stroke="none" stroke-width="1"/>
<circle cx="50.93" cy="492.11" r="1.85" fill="#e41a1c" stroke="none" stroke-width="1"/>
<circle cx="50.11" cy="503.52" r="1.85" fill="#e41a1c" stroke="none" stroke-width="1"/>
<circle cx="52.56" cy="502.71" r="1.85" fill="#e41a1c" stroke="none" stroke-width="1"/>
<circle cx="54.19" cy="503.52" r="1.85" fill="#e41a1c" stroke="none" stroke-width="1"/>
<circle cx="55.82" cy="497.82" r="1.85" fill="#e41a1c" stroke="none" stroke-width="1"/>
<circle cx="56.63" cy="503.52" r="1.85" fill="#e41a1c" stroke="none" stroke-width="1"/>
<circle cx="57.45" cy="495.37" r="1.85" fill="#e41a1c" stroke="none" stroke-width="1"/>
<circle cx="59.08" cy="497.82" r="1.85" fill="#e41a1c" stroke="none" stroke-width="1"/>
<circle cx="60.71" cy="498.63" r="1.85" fill="#e41a1c" stroke="none" stroke-width="1"/>
<circle cx="61.52" cy="505.15" r="1.85" fill="#e41a1c" stroke="none" stroke-width="1"/>
<circle cx="63.15" cy="505.96" r="1.85" fill="#e41a1c" stroke="none" stroke-width="1"/>
<circle cx="63.96" cy="500.26" r="1.85" fill="#e41a1c" stroke="none" stroke-width="1"/>
<circle cx="65.59" cy="499.45" r="1.85" fill="#e41a1c" stroke="none" stroke-width="1"/>
<circle cx="67.22" cy="498.63" r="1.85" fill="#e41a1c" stroke="none" stroke-width="1"/>
<circle cx="68.85" cy="497.00" r="1.85" fill="#e41a1c" stroke="none" stroke-width="1"/>
<circle cx="70.48" cy="494.56" r="1.85" fill="#e41a1c" stroke="none" stroke-width="1"/>
<circle cx="68.04" cy="500.26" r="1.85" fill="#e41a1c" stroke="none" stroke-width="1"/>
<circle cx="72.11" cy="513.30" r="1.85" fill="#e41a1c" stroke="none" stroke-width="1"/>
<circle cx="73.42" cy="514.93" r="1.85" fill="#e41a1c" stroke="none" stroke-width="1"/>
<circle cx="74.56" cy="500.26" r="1.85" fill="#e41a1c" stroke="none" stroke-width="1"/>
<circle cx="76.19" cy="501.08" r="1.85" fill="#e41a1c" stroke="none" stroke-width="1"/>
<circle cx="77.00" cy="505.15" r="1.85" fill="#e41a1c" stroke="none" stroke-width="1"/>
<circle cx="78.63" cy="509.22" r="1.85" fill="#e41a1c" stroke="none" stroke-width="1"/>
<circle cx="80.26" cy="505.15" r="1.85" fill="#e41a1c" stroke="none" stroke-width="1"/>
<circle cx="81.08" cy="501.08" r="1.85" fill="#e41a1c" stroke="none" stroke-width="1"/>
<circle cx="81.89" cy="503.52" r="1.85" fill="#e41a1c" stroke="none" stroke-width="1"/>
<circle cx="83.52" cy="505.15" r="1.85" fill="#e41a1c" stroke="none" stroke-width="1"/>
<circle cx="85.15" cy="505.96" r="1.85" fill="#e41a1c" stroke="none" stroke-width="1"/>
<circle cx="86.78" cy="506.78" r="1.85" fill="#e41a1c" stroke="none" stroke-width="1"/>
<circle cx="87.60" cy="505.15" r="1.85" fill="#e41a1c" stroke="none" stroke-width="1"/>
<circle cx="89.23" cy="507.59" r="1.85" fill="#e41a1c" stroke="none" stroke-width="1"/>
<circle cx="90.86" cy="505.15" r="1.85" fill="#e41a1c" stroke="none" stroke-width="1"/>
<circle cx="91.67" cy="520.63" r="1.85" fill="#e41a1c" stroke="none" stroke-width="1"/>
<circle cx="93.30" cy="505.96" r="1.85" fill="#e41a1c" stroke="none" stroke-width="1"/>
<circle cx="94.60" cy="513.30" r="1.85" fill="#e41a1c" stroke="none" stroke-width="1"/>
<circle cx="95.74" cy="507.59" r="1.85" fill="#e41a1c" stroke="none" stroke-width="1"/>
<circle cx="97.37" cy="510.04" r="1.85" fill="#e41a1c" stroke="none" stroke-width="1"/>
<circle cx="98.19" cy="517.37" r="1.85" fill="#e41a1c" stroke="none" stroke-width="1"/>
<circle cx="99.82" cy="519.00" r="1.85" fill="#e41a1c" stroke="none" stroke-width="1"/>
<circle cx="100.63" cy="522.26" r="1.85" fill="#e41a1c" stroke="none" stroke-width="1"/>
<circle cx="102.26" cy="510.04" r="1.85" fill="#e41a1c" stroke="none" stroke-width="1"/>
<circle cx="103.89" cy="514.11" r="1.85" fill="#e41a1c" stroke="none" stroke-width="1"/>
<circle cx="104.71" cy="511.67" r="1.85" fill="#e41a1c" stroke="none" stroke-width="1"/>
<circle cx="106.34" cy="523.89" r="1.85" fill="#e41a1c" stroke="none" stroke-width="1"/>
<circle cx="107.97" cy="516.56" r="1.85" fill="#e41a1c" stroke="none" stroke-width="1"/>
<circle cx="109.60" cy="524.71" r="1.85" fill="#e41a1c" stroke="none" stroke-width="1"/>
<circle cx="111.23" cy="516.56" r="1.85" fill="#e41a1c" stroke="none" stroke-width="1"/>
<circle cx="112.86" cy="511.67" r="1.85" fill="#e41a1c" stroke="none" stroke-width="1"/>
<circle cx="114.49" cy="514.11" r="1.85" fill="#e41a1c" stroke="none" stroke-width="1"/>
<circle cx="116.12" cy="527.15" r="1.85" fill="#e41a1c" stroke="none" stroke-width="1"/>
<circle cx="117.75" cy="528.78" r="1.85" fill="#e41a1c" stroke="none" stroke-width="1"/>
<circle cx="119.38" cy="527.97" r="1.85" fill="#e41a1c" stroke="none" stroke-width="1"/>
<circle cx="121.01" cy="532.04" r="1.85" fill="#e41a1c" stroke="none" stroke-width="1"/>
<circle cx="121.82" cy="527.97" r="1.85" fill="#e41a1c" stroke="none" stroke-width="1"/>
<circle cx="124.26" cy="518.19" r="1.85" fill="#e41a1c" stroke="none" stroke-width="1"/>
<circle cx="126.71" cy="527.15" r="1.85" fill="#e41a1c" stroke="none" stroke-width="1"/>
<circle cx="129.15" cy="532.04" r="1.85" fill="#e41a1c" stroke="none" stroke-width="1"/>
<circle cx="130.78" cy="532.86" r="1.85" fill="#e41a1c" stroke="none" stroke-width="1"/>
<circle cx="133.23" cy="533.67" r="1.85" fill="#e41a1c" stroke="none" stroke-width="1"/>
<circle cx="134.86" cy="536.11" r="1.85" fill="#e41a1c" stroke="none" stroke-width="1"/>
<circle cx="135.67" cy="538.56" r="1.85" fill="#e41a1c" stroke="none" stroke-width="1"/>
<circle cx="137.30" cy="538.56" r="1.85" fill="#e41a1c" stroke="none" stroke-width="1"/>
<circle cx="137.30" cy="543.45" r="1.85" fill="#e41a1c" stroke="none" stroke-width="1"/>
<circle cx="36.80" cy="500.90" r="1.7" fill="#000" stroke="none" stroke-width="1"/>
<circle cx="38.10" cy="503.83" r="1.7" fill="#000" stroke="none" stroke-width="1"/>
<circle cx="39.39" cy="506.55" r="1.7" fill="#000" stroke="none" stroke-width="1"/>
<circle cx="40.69" cy="508.99" r="1.7" fill="#000" stroke="none" stroke-width="1"/>
<circle cx="41.98" cy="511.43" r="1.7" fill="#000" stroke="none" stroke-width="1"/>
<circle cx="43.28" cy="513.51" r="1.7" fill="#000" stroke="none" stroke-width="1"/>
<circle cx="44.58" cy="514.81" r="1.7" fill="#000" stroke="none" stroke-width="1"/>
<circle cx="45.87" cy="516.11" r="1.7" fill="#000" stroke="none" stroke-width="1"/>
<circle cx="47.17" cy="516.91" r="1.7" fill="#000" stroke="none" stroke-width="1"/>
<circle cx="48.47" cy="517.69" r="1.7" fill="#000" stroke="none" stroke-width="1"/>
<circle cx="49.76" cy="518.47" r="1.7" fill="#000" stroke="none" stroke-width="1"/>
<circle cx="51.06" cy="519.24" r="1.7" fill="#000" stroke="none" stroke-width="1"/>
<circle cx="52.35" cy="519.86" r="1.7" fill="#000" stroke="none" stroke-width="1"/>
<circle cx="53.65" cy="520.48" r="1.7" fill="#000" stroke="none" stroke-width="1"/>
<circle cx="54.95" cy="521.10" r="1.7" fill="#000" stroke="none" stroke-width="1"/>
<circle cx="56.24" cy="521.72" r="1.7" fill="#000" stroke="none" stroke-width="1"/>
<circle cx="57.54" cy="522.35" r="1.7" fill="#000" stroke="none" stroke-width="1"/>
<circle cx="58.83" cy="522.97" r="1.7" fill="#000" stroke="none" stroke-width="1"/>
<circle cx="60.13" cy="523.59" r="1.7" fill="#000" stroke="none" stroke-width="1"/>
<circle cx="61.43" cy="524.21" r="1.7" fill="#000" stroke="none" stroke-width="1"/>
<circle cx="62.72" cy="524.72" r="1.7" fill="#000" stroke="none" stroke-width="1"/>
<circle cx="64.02" cy="525.11" r="1.7" fill="#000" stroke="none" stroke-width="1"/>
<circle cx="65.32" cy="525.50" r="1.7" fill="#000" stroke="none" stroke-width="1"/>
<circle cx="66.61" cy="525.89" r="1.7" fill="#000" stroke="none" stroke-width="1"/>
<circle cx="67.91" cy="526.28" r="1.7" fill="#000" stroke="none" stroke-width="1"/>
<circle cx="69.20" cy="526.67" r="1.7" fill="#000" stroke="none" stroke-width="1"/>
<circle cx="70.50" cy="527.06" r="1.7" fill="#000" stroke="none" stroke-width="1"/>
<circle cx="71.80" cy="527.45" r="1.7" fill="#000" stroke="none" stroke-width="1"/>
<circle cx="73.09" cy="527.91" r="1.7" fill="#000" stroke="none" stroke-width="1"/>
<circle cx="74.39" cy="528.40" r="1.7" fill="#000" stroke="none" stroke-width="1"/>
<circle cx="75.68" cy="528.89" r="1.7" fill="#000" stroke="none" stroke-width="1"/>
<circle cx="76.98" cy="529.38" r="1.7" fill="#000" stroke="none" stroke-width="1"/>
<circle cx="78.28" cy="529.87" r="1.7" fill="#000" stroke="none" stroke-width="1"/>
<circle cx="79.57" cy="530.35" r="1.7" fill="#000" stroke="none" stroke-width="1"/>
<circle cx="80.87" cy="530.84" r="1.7" fill="#000" stroke="none" stroke-width="1"/>
<circle cx="82.17" cy="531.33" r="1.7" fill="#000" stroke="none" stroke-width="1"/>
<circle cx="83.46" cy="531.64" r="1.7" fill="#000" stroke="none" stroke-width="1"/>
<circle cx="84.76" cy="531.94" r="1.7" fill="#000" stroke="none" stroke-width="1"/>
<circle cx="86.05" cy="532.23" r="1.7" fill="#000" stroke="none" stroke-width="1"/>
<circle cx="87.35" cy="532.52" r="1.7" fill="#000" stroke="none" stroke-width="1"/>
<circle cx="88.65" cy="532.82" r="1.7" fill="#000" stroke="none" stroke-width="1"/>
<circle cx="89.94" cy="533.11" r="1.7" fill="#000" stroke="none" stroke-width="1"/>
<circle cx="91.24" cy="533.40" r="1.7" fill="#000" stroke="none" stroke-width="1"/>
<circle cx="92.53" cy="533.71" r="1.7" fill="#000" stroke="none" stroke-width="1"/>
<circle cx="93.83" cy="534.10" r="1.7" fill="#000" stroke="none" stroke-width="1"/>
<circle cx="95.13" cy="534.49" r="1.7" fill="#000" stroke="none" stroke-width="1"/>
<circle cx="96.42" cy="534.88" r="1.7" fill="#000" stroke="none" stroke-width="1"/>
<circle cx="97.72" cy="535.27" r="1.7" fill="#000" stroke="none" stroke-width="1"/>
<circle cx="99.02" cy="535.66" r="1.7" fill="#000" stroke="none" stroke-width="1"/>
<circle cx="100.31" cy="536.05" r="1.7" fill="#000" stroke="none" stroke-width="1"/>
<circle cx="101.61" cy="536.44" r="1.7" fill="#000" stroke="none" stroke-width="1"/>
<circle cx="102.90" cy="536.83" r="1.7" fill="#000" stroke="none" stroke-width="1"/>
<circle cx="104.20" cy="537.25" r="1.7" fill="#000" stroke="none" stroke-width="1"/>
<circle cx="105.50" cy="537.70" r="1.7" fill="#000" stroke="none" stroke-width="1"/>
<circle cx="106.79" cy="538.15" r="1.7" fill="#000" stroke="none" stroke-width="1"/>
<circle cx="108.09" cy="538.60" r="1.7" fill="#000" stroke="none" stroke-width="1"/>
<circle cx="109.38" cy="539.05" r="1.7" fill="#000" stroke="none" stroke-width="1"/>
<circle cx="110.68" cy="539.50" r="1.7" fill="#000" stroke="none" stroke-width="1"/>
<circle cx="111.98" cy="539.95" r="1.7" fill="#000" stroke="none" stroke-width="1"/>
<circle cx="113.27" cy="540.40" r="1.7" fill="#000" stroke="none" stroke-width="1"/>
<circle cx="114.57" cy="540.81" r="1.7" fill="#000" stroke="none" stroke-width="1"/>
<circle cx="115.87" cy="541.20" r="1.7" fill="#000" stroke="none" stroke-width="1"/>
<circle cx="117.16" cy="541.59" r="1.7" fill="#000" stroke="none" stroke-width="1"/>
<circle cx="118.46" cy="541.98" r="1.7" fill="#000" stroke="none" stroke-width="1"/>
<circle cx="119.75" cy="542.37" r="1.7" fill="#000" stroke="none" stroke-width="1"/>
<circle cx="121.05" cy="542.76" r="1.7" fill="#000" stroke="none" stroke-width="1"/>
<circle cx="122.35" cy="543.15" r="1.7" fill="#000" stroke="none" stroke-width="1"/>
<circle cx="123.64" cy="543.54" r="1.7" fill="#000" stroke="none" stroke-width="1"/>
<circle cx="124.94" cy="544.77" r="1.7" fill="#000" stroke="none" stroke-width="1"/>
<circle cx="126.23" cy="546.07" r="1.7" fill="#000" stroke="none" stroke-width="1"/>
<circle cx="127.53" cy="547.07" r="1.7" fill="#000" stroke="none" stroke-width="1"/>
<circle cx="128.83" cy="547.85" r="1.7" fill="#000" stroke="none" stroke-width="1"/>
<circle cx="130.12" cy="548.64" r="1.7" fill="#000" stroke="none" stroke-width="1"/>
<circle cx="131.42" cy="549.42" r="1.7" fill="#000" stroke="none" stroke-width="1"/>
<circle cx="132.72" cy="550.81" r="1.7" fill="#000" stroke="none" stroke-width="1"/>
<circle cx="134.01" cy="552.48" r="1.7" fill="#000" stroke="none" stroke-width="1"/>
<circle cx="135.31" cy="554.16" r="1.7" fill="#000" stroke="none" stroke-width="1"/>
<circle cx="136.60" cy="559.95" r="1.7" fill="#000" stroke="none" stroke-width="1"/>
<circle cx="137.90" cy="566.43" r="1.7" fill="#000" stroke="none" stroke-width="1"/>
<line x1="144.20" y1="543.57" x2="144.20" y2="519.19" stroke="#111" stroke-width="1"/>
<circle cx="144.20" cy="531.38" r="1.9" fill="#000" stroke="none" stroke-width="1"/>
<line x1="147.10" y1="523.76" x2="147.10" y2="497.85" stroke="#e41a1c" stroke-width="1"/>
<circle cx="147.10" cy="510.81" r="1.9" fill="#e41a1c" stroke="none" stroke-width="1"/>
<text x="156.50" y="445.30" font-size="17.5" text-anchor="start" font-weight="bold" fill="#000" >j</text>
<line x1="202.20" y1="463.80" x2="202.20" y2="577.60" stroke="#333" stroke-width="1"/>
<line x1="202.20" y1="577.10" x2="305.40" y2="577.10" stroke="#333" stroke-width="1"/>
<line x1="308.50" y1="577.10" x2="318.00" y2="577.10" stroke="#333" stroke-width="1"/>
<line x1="199.20" y1="577.10" x2="202.20" y2="577.10" stroke="#333" stroke-width="1"/>
<text x="195.90" y="580.80" font-size="10.3" text-anchor="end" font-weight="normal" fill="#111" >1.7</text>
<line x1="199.20" y1="561.86" x2="202.20" y2="561.86" stroke="#333" stroke-width="1"/>
<text x="195.90" y="565.56" font-size="10.3" text-anchor="end" font-weight="normal" fill="#111" >1.8</text>
<line x1="199.20" y1="546.62" x2="202.20" y2="546.62" stroke="#333" stroke-width="1"/>
<text x="195.90" y="550.32" font-size="10.3" text-anchor="end" font-weight="normal" fill="#111" >1.9</text>
<line x1="199.20" y1="531.38" x2="202.20" y2="531.38" stroke="#333" stroke-width="1"/>
<text x="195.90" y="535.08" font-size="10.3" text-anchor="end" font-weight="normal" fill="#111" >2</text>
<line x1="199.20" y1="516.14" x2="202.20" y2="516.14" stroke="#333" stroke-width="1"/>
<text x="195.90" y="519.84" font-size="10.3" text-anchor="end" font-weight="normal" fill="#111" >2.1</text>
<line x1="199.20" y1="500.90" x2="202.20" y2="500.90" stroke="#333" stroke-width="1"/>
<text x="195.90" y="504.60" font-size="10.3" text-anchor="end" font-weight="normal" fill="#111" >2.2</text>
<line x1="199.20" y1="485.66" x2="202.20" y2="485.66" stroke="#333" stroke-width="1"/>
<text x="195.90" y="489.36" font-size="10.3" text-anchor="end" font-weight="normal" fill="#111" >2.3</text>
<line x1="199.20" y1="470.42" x2="202.20" y2="470.42" stroke="#333" stroke-width="1"/>
<text x="195.90" y="474.12" font-size="10.3" text-anchor="end" font-weight="normal" fill="#111" >2.4</text>
<line x1="202.20" y1="577.10" x2="202.20" y2="580.60" stroke="#333" stroke-width="1"/>
<line x1="228.30" y1="577.10" x2="228.30" y2="580.60" stroke="#333" stroke-width="1"/>
<line x1="255.40" y1="577.10" x2="255.40" y2="580.60" stroke="#333" stroke-width="1"/>
<line x1="281.80" y1="577.10" x2="281.80" y2="580.60" stroke="#333" stroke-width="1"/>
<text x="243.60" y="596.60" font-size="11.5" text-anchor="start" font-weight="normal" fill="#111" >Cell #</text>
<text x="176.20" y="518.45" font-size="10.8" text-anchor="middle" font-weight="normal" fill="#111" transform="rotate(-90 176.2 518.45)" >Fluorescence lifetime (ns)</text>
<text x="213.60" y="461.40" font-size="10.8" text-anchor="start" font-weight="normal" fill="#111" >Clover/ShadowY</text>
<text x="212.40" y="570.00" font-size="12" text-anchor="start" font-weight="normal" fill="#111" >n=76</text>
<circle cx="203.07" cy="500.15" r="1.85" fill="#e41a1c" stroke="none" stroke-width="1"/>
<circle cx="204.70" cy="481.08" r="1.85" fill="#e41a1c" stroke="none" stroke-width="1"/>
<circle cx="206.33" cy="481.08" r="1.85" fill="#e41a1c" stroke="none" stroke-width="1"/>
<circle cx="207.96" cy="480.59" r="1.85" fill="#e41a1c" stroke="none" stroke-width="1"/>
<circle cx="208.45" cy="498.52" r="1.85" fill="#e41a1c" stroke="none" stroke-width="1"/>
<circle cx="210.41" cy="480.59" r="1.85" fill="#e41a1c" stroke="none" stroke-width="1"/>
<circle cx="211.22" cy="485.48" r="1.85" fill="#e41a1c" stroke="none" stroke-width="1"/>
<circle cx="212.85" cy="478.96" r="1.85" fill="#e41a1c" stroke="none" stroke-width="1"/>
<circle cx="214.48" cy="479.78" r="1.85" fill="#e41a1c" stroke="none" stroke-width="1"/>
<circle cx="215.30" cy="484.67" r="1.85" fill="#e41a1c" stroke="none" stroke-width="1"/>
<circle cx="216.11" cy="482.22" r="1.85" fill="#e41a1c" stroke="none" stroke-width="1"/>
<circle cx="217.74" cy="479.78" r="1.85" fill="#e41a1c" stroke="none" stroke-width="1"/>
<circle cx="218.56" cy="483.04" r="1.85" fill="#e41a1c" stroke="none" stroke-width="1"/>
<circle cx="219.37" cy="486.30" r="1.85" fill="#e41a1c" stroke="none" stroke-width="1"/>
<circle cx="220.19" cy="489.56" r="1.85" fill="#e41a1c" stroke="none" stroke-width="1"/>
<circle cx="221.82" cy="491.19" r="1.85" fill="#e41a1c" stroke="none" stroke-width="1"/>
<circle cx="223.12" cy="483.04" r="1.85" fill="#e41a1c" stroke="none" stroke-width="1"/>
<circle cx="224.26" cy="492.82" r="1.85" fill="#e41a1c" stroke="none" stroke-width="1"/>
<circle cx="225.89" cy="503.41" r="1.85" fill="#e41a1c" stroke="none" stroke-width="1"/>
<circle cx="226.71" cy="493.63" r="1.85" fill="#e41a1c" stroke="none" stroke-width="1"/>
<circle cx="228.34" cy="488.74" r="1.85" fill="#e41a1c" stroke="none" stroke-width="1"/>
<circle cx="229.96" cy="489.56" r="1.85" fill="#e41a1c" stroke="none" stroke-width="1"/>
<circle cx="231.59" cy="490.37" r="1.85" fill="#e41a1c" stroke="none" stroke-width="1"/>
<circle cx="233.22" cy="489.56" r="1.85" fill="#e41a1c" stroke="none" stroke-width="1"/>
<circle cx="234.85" cy="496.08" r="1.85" fill="#e41a1c" stroke="none" stroke-width="1"/>
<circle cx="236.48" cy="494.45" r="1.85" fill="#e41a1c" stroke="none" stroke-width="1"/>
<circle cx="238.11" cy="492.00" r="1.85" fill="#e41a1c" stroke="none" stroke-width="1"/>
<circle cx="239.74" cy="493.63" r="1.85" fill="#e41a1c" stroke="none" stroke-width="1"/>
<circle cx="240.56" cy="491.19" r="1.85" fill="#e41a1c" stroke="none" stroke-width="1"/>
<circle cx="242.19" cy="489.56" r="1.85" fill="#e41a1c" stroke="none" stroke-width="1"/>
<circle cx="243.82" cy="490.37" r="1.85" fill="#e41a1c" stroke="none" stroke-width="1"/>
<circle cx="244.63" cy="504.22" r="1.85" fill="#e41a1c" stroke="none" stroke-width="1"/>
<circle cx="246.26" cy="489.56" r="1.85" fill="#e41a1c" stroke="none" stroke-width="1"/>
<circle cx="247.08" cy="505.04" r="1.85" fill="#e41a1c" stroke="none" stroke-width="1"/>
<circle cx="247.89" cy="492.82" r="1.85" fill="#e41a1c" stroke="none" stroke-width="1"/>
<circle cx="249.52" cy="493.63" r="1.85" fill="#e41a1c" stroke="none" stroke-width="1"/>
<circle cx="251.15" cy="492.82" r="1.85" fill="#e41a1c" stroke="none" stroke-width="1"/>
<circle cx="252.78" cy="510.74" r="1.85" fill="#e41a1c" stroke="none" stroke-width="1"/>
<circle cx="254.41" cy="500.15" r="1.85" fill="#e41a1c" stroke="none" stroke-width="1"/>
<circle cx="255.23" cy="489.56" r="1.85" fill="#e41a1c" stroke="none" stroke-width="1"/>
<circle cx="256.86" cy="502.59" r="1.85" fill="#e41a1c" stroke="none" stroke-width="1"/>
<circle cx="257.67" cy="497.71" r="1.85" fill="#e41a1c" stroke="none" stroke-width="1"/>
<circle cx="259.30" cy="496.89" r="1.85" fill="#e41a1c" stroke="none" stroke-width="1"/>
<circle cx="260.93" cy="498.52" r="1.85" fill="#e41a1c" stroke="none" stroke-width="1"/>
<circle cx="262.56" cy="496.08" r="1.85" fill="#e41a1c" stroke="none" stroke-width="1"/>
<circle cx="264.19" cy="492.82" r="1.85" fill="#e41a1c" stroke="none" stroke-width="1"/>
<circle cx="265.82" cy="492.82" r="1.85" fill="#e41a1c" stroke="none" stroke-width="1"/>
<circle cx="267.45" cy="493.63" r="1.85" fill="#e41a1c" stroke="none" stroke-width="1"/>
<circle cx="269.08" cy="494.45" r="1.85" fill="#e41a1c" stroke="none" stroke-width="1"/>
<circle cx="270.38" cy="512.05" r="1.85" fill="#e41a1c" stroke="none" stroke-width="1"/>
<circle cx="271.52" cy="518.08" r="1.85" fill="#e41a1c" stroke="none" stroke-width="1"/>
<circle cx="273.15" cy="518.08" r="1.85" fill="#e41a1c" stroke="none" stroke-width="1"/>
<circle cx="273.97" cy="509.11" r="1.85" fill="#e41a1c" stroke="none" stroke-width="1"/>
<circle cx="275.60" cy="505.04" r="1.85" fill="#e41a1c" stroke="none" stroke-width="1"/>
<circle cx="277.23" cy="517.26" r="1.85" fill="#e41a1c" stroke="none" stroke-width="1"/>
<circle cx="278.04" cy="508.30" r="1.85" fill="#e41a1c" stroke="none" stroke-width="1"/>
<circle cx="279.67" cy="500.96" r="1.85" fill="#e41a1c" stroke="none" stroke-width="1"/>
<circle cx="280.49" cy="509.93" r="1.85" fill="#e41a1c" stroke="none" stroke-width="1"/>
<circle cx="282.12" cy="506.67" r="1.85" fill="#e41a1c" stroke="none" stroke-width="1"/>
<circle cx="283.75" cy="507.48" r="1.85" fill="#e41a1c" stroke="none" stroke-width="1"/>
<circle cx="285.38" cy="515.63" r="1.85" fill="#e41a1c" stroke="none" stroke-width="1"/>
<circle cx="286.19" cy="509.93" r="1.85" fill="#e41a1c" stroke="none" stroke-width="1"/>
<circle cx="287.82" cy="500.96" r="1.85" fill="#e41a1c" stroke="none" stroke-width="1"/>
<circle cx="288.63" cy="516.45" r="1.85" fill="#e41a1c" stroke="none" stroke-width="1"/>
<circle cx="290.26" cy="517.26" r="1.85" fill="#e41a1c" stroke="none" stroke-width="1"/>
<circle cx="291.89" cy="515.63" r="1.85" fill="#e41a1c" stroke="none" stroke-width="1"/>
<circle cx="292.71" cy="521.34" r="1.85" fill="#e41a1c" stroke="none" stroke-width="1"/>
<circle cx="294.34" cy="523.78" r="1.85" fill="#e41a1c" stroke="none" stroke-width="1"/>
<circle cx="295.97" cy="514.00" r="1.85" fill="#e41a1c" stroke="none" stroke-width="1"/>
<circle cx="296.78" cy="504.22" r="1.85" fill="#e41a1c" stroke="none" stroke-width="1"/>
<circle cx="298.41" cy="525.41" r="1.85" fill="#e41a1c" stroke="none" stroke-width="1"/>
<circle cx="299.23" cy="511.56" r="1.85" fill="#e41a1c" stroke="none" stroke-width="1"/>
<circle cx="300.86" cy="509.93" r="1.85" fill="#e41a1c" stroke="none" stroke-width="1"/>
<circle cx="302.49" cy="509.11" r="1.85" fill="#e41a1c" stroke="none" stroke-width="1"/>
<circle cx="303.30" cy="509.93" r="1.85" fill="#e41a1c" stroke="none" stroke-width="1"/>
<circle cx="202.80" cy="513.09" r="1.7" fill="#000" stroke="none" stroke-width="1"/>
<circle cx="204.14" cy="513.62" r="1.7" fill="#000" stroke="none" stroke-width="1"/>
<circle cx="205.48" cy="514.14" r="1.7" fill="#000" stroke="none" stroke-width="1"/>
<circle cx="206.82" cy="514.67" r="1.7" fill="#000" stroke="none" stroke-width="1"/>
<circle cx="208.16" cy="515.19" r="1.7" fill="#000" stroke="none" stroke-width="1"/>
<circle cx="209.50" cy="515.49" r="1.7" fill="#000" stroke="none" stroke-width="1"/>
<circle cx="210.84" cy="515.65" r="1.7" fill="#000" stroke="none" stroke-width="1"/>
<circle cx="212.18" cy="515.82" r="1.7" fill="#000" stroke="none" stroke-width="1"/>
<circle cx="213.52" cy="515.99" r="1.7" fill="#000" stroke="none" stroke-width="1"/>
<circle cx="214.86" cy="516.15" r="1.7" fill="#000" stroke="none" stroke-width="1"/>
<circle cx="216.20" cy="516.32" r="1.7" fill="#000" stroke="none" stroke-width="1"/>
<circle cx="217.54" cy="516.49" r="1.7" fill="#000" stroke="none" stroke-width="1"/>
<circle cx="218.88" cy="516.65" r="1.7" fill="#000" stroke="none" stroke-width="1"/>
<circle cx="220.22" cy="516.82" r="1.7" fill="#000" stroke="none" stroke-width="1"/>
<circle cx="221.56" cy="518.17" r="1.7" fill="#000" stroke="none" stroke-width="1"/>
<circle cx="222.90" cy="520.71" r="1.7" fill="#000" stroke="none" stroke-width="1"/>
<circle cx="224.24" cy="520.95" r="1.7" fill="#000" stroke="none" stroke-width="1"/>
<circle cx="225.58" cy="521.18" r="1.7" fill="#000" stroke="none" stroke-width="1"/>
<circle cx="226.92" cy="521.42" r="1.7" fill="#000" stroke="none" stroke-width="1"/>
<circle cx="228.26" cy="521.66" r="1.7" fill="#000" stroke="none" stroke-width="1"/>
<circle cx="229.60" cy="521.89" r="1.7" fill="#000" stroke="none" stroke-width="1"/>
<circle cx="230.94" cy="522.13" r="1.7" fill="#000" stroke="none" stroke-width="1"/>
<circle cx="232.28" cy="522.37" r="1.7" fill="#000" stroke="none" stroke-width="1"/>
<circle cx="233.62" cy="522.62" r="1.7" fill="#000" stroke="none" stroke-width="1"/>
<circle cx="234.96" cy="522.86" r="1.7" fill="#000" stroke="none" stroke-width="1"/>
<circle cx="236.30" cy="523.11" r="1.7" fill="#000" stroke="none" stroke-width="1"/>
<circle cx="237.64" cy="523.35" r="1.7" fill="#000" stroke="none" stroke-width="1"/>
<circle cx="238.98" cy="523.60" r="1.7" fill="#000" stroke="none" stroke-width="1"/>
<circle cx="240.32" cy="523.85" r="1.7" fill="#000" stroke="none" stroke-width="1"/>
<circle cx="241.66" cy="524.09" r="1.7" fill="#000" stroke="none" stroke-width="1"/>
<circle cx="243.00" cy="524.34" r="1.7" fill="#000" stroke="none" stroke-width="1"/>
<circle cx="244.34" cy="524.61" r="1.7" fill="#000" stroke="none" stroke-width="1"/>
<circle cx="245.68" cy="524.98" r="1.7" fill="#000" stroke="none" stroke-width="1"/>
<circle cx="247.02" cy="525.35" r="1.7" fill="#000" stroke="none" stroke-width="1"/>
<circle cx="248.36" cy="525.72" r="1.7" fill="#000" stroke="none" stroke-width="1"/>
<circle cx="249.70" cy="526.08" r="1.7" fill="#000" stroke="none" stroke-width="1"/>
<circle cx="251.04" cy="526.45" r="1.7" fill="#000" stroke="none" stroke-width="1"/>
<circle cx="252.38" cy="526.81" r="1.7" fill="#000" stroke="none" stroke-width="1"/>
<circle cx="253.72" cy="527.06" r="1.7" fill="#000" stroke="none" stroke-width="1"/>
<circle cx="255.06" cy="527.31" r="1.7" fill="#000" stroke="none" stroke-width="1"/>
<circle cx="256.40" cy="527.55" r="1.7" fill="#000" stroke="none" stroke-width="1"/>
<circle cx="257.74" cy="527.80" r="1.7" fill="#000" stroke="none" stroke-width="1"/>
<circle cx="259.08" cy="528.04" r="1.7" fill="#000" stroke="none" stroke-width="1"/>
<circle cx="260.42" cy="528.29" r="1.7" fill="#000" stroke="none" stroke-width="1"/>
<circle cx="261.76" cy="528.53" r="1.7" fill="#000" stroke="none" stroke-width="1"/>
<circle cx="263.10" cy="528.78" r="1.7" fill="#000" stroke="none" stroke-width="1"/>
<circle cx="264.44" cy="529.03" r="1.7" fill="#000" stroke="none" stroke-width="1"/>
<circle cx="265.78" cy="529.40" r="1.7" fill="#000" stroke="none" stroke-width="1"/>
<circle cx="267.12" cy="529.81" r="1.7" fill="#000" stroke="none" stroke-width="1"/>
<circle cx="268.46" cy="530.23" r="1.7" fill="#000" stroke="none" stroke-width="1"/>
<circle cx="269.80" cy="530.64" r="1.7" fill="#000" stroke="none" stroke-width="1"/>
<circle cx="271.14" cy="531.06" r="1.7" fill="#000" stroke="none" stroke-width="1"/>
<circle cx="272.48" cy="531.48" r="1.7" fill="#000" stroke="none" stroke-width="1"/>
<circle cx="273.82" cy="532.14" r="1.7" fill="#000" stroke="none" stroke-width="1"/>
<circle cx="275.16" cy="533.06" r="1.7" fill="#000" stroke="none" stroke-width="1"/>
<circle cx="276.50" cy="533.97" r="1.7" fill="#000" stroke="none" stroke-width="1"/>
<circle cx="277.84" cy="534.49" r="1.7" fill="#000" stroke="none" stroke-width="1"/>
<circle cx="279.18" cy="534.61" r="1.7" fill="#000" stroke="none" stroke-width="1"/>
<circle cx="280.52" cy="534.73" r="1.7" fill="#000" stroke="none" stroke-width="1"/>
<circle cx="281.86" cy="534.85" r="1.7" fill="#000" stroke="none" stroke-width="1"/>
<circle cx="283.20" cy="534.97" r="1.7" fill="#000" stroke="none" stroke-width="1"/>
<circle cx="284.54" cy="535.09" r="1.7" fill="#000" stroke="none" stroke-width="1"/>
<circle cx="285.88" cy="535.29" r="1.7" fill="#000" stroke="none" stroke-width="1"/>
<circle cx="287.22" cy="535.78" r="1.7" fill="#000" stroke="none" stroke-width="1"/>
<circle cx="288.56" cy="536.27" r="1.7" fill="#000" stroke="none" stroke-width="1"/>
<circle cx="289.90" cy="536.76" r="1.7" fill="#000" stroke="none" stroke-width="1"/>
<circle cx="291.24" cy="537.25" r="1.7" fill="#000" stroke="none" stroke-width="1"/>
<circle cx="292.58" cy="537.74" r="1.7" fill="#000" stroke="none" stroke-width="1"/>
<circle cx="293.92" cy="538.23" r="1.7" fill="#000" stroke="none" stroke-width="1"/>
<circle cx="295.26" cy="538.99" r="1.7" fill="#000" stroke="none" stroke-width="1"/>
<circle cx="296.60" cy="539.75" r="1.7" fill="#000" stroke="none" stroke-width="1"/>
<circle cx="297.94" cy="540.52" r="1.7" fill="#000" stroke="none" stroke-width="1"/>
<circle cx="299.28" cy="541.29" r="1.7" fill="#000" stroke="none" stroke-width="1"/>
<circle cx="300.62" cy="542.81" r="1.7" fill="#000" stroke="none" stroke-width="1"/>
<circle cx="301.96" cy="544.33" r="1.7" fill="#000" stroke="none" stroke-width="1"/>
<circle cx="303.30" cy="545.86" r="1.7" fill="#000" stroke="none" stroke-width="1"/>
<line x1="310.20" y1="535.65" x2="310.20" y2="519.49" stroke="#111" stroke-width="1"/>
<circle cx="310.20" cy="527.57" r="1.9" fill="#000" stroke="none" stroke-width="1"/>
<line x1="313.10" y1="510.81" x2="313.10" y2="486.42" stroke="#e41a1c" stroke-width="1"/>
<circle cx="313.10" cy="498.61" r="1.9" fill="#e41a1c" stroke="none" stroke-width="1"/>
<text x="329.00" y="445.00" font-size="17.5" text-anchor="start" font-weight="bold" fill="#000" >k</text>
<line x1="371.20" y1="463.80" x2="371.20" y2="577.20" stroke="#333" stroke-width="1"/>
<line x1="371.20" y1="576.70" x2="473.30" y2="576.70" stroke="#333" stroke-width="1"/>
<line x1="477.50" y1="576.70" x2="486.00" y2="576.70" stroke="#333" stroke-width="1"/>
<line x1="368.20" y1="576.70" x2="371.20" y2="576.70" stroke="#333" stroke-width="1"/>
<text x="364.90" y="580.40" font-size="10.3" text-anchor="end" font-weight="normal" fill="#111" >1.7</text>
<line x1="368.20" y1="561.55" x2="371.20" y2="561.55" stroke="#333" stroke-width="1"/>
<text x="364.90" y="565.25" font-size="10.3" text-anchor="end" font-weight="normal" fill="#111" >1.8</text>
<line x1="368.20" y1="546.40" x2="371.20" y2="546.40" stroke="#333" stroke-width="1"/>
<text x="364.90" y="550.10" font-size="10.3" text-anchor="end" font-weight="normal" fill="#111" >1.9</text>
<line x1="368.20" y1="531.25" x2="371.20" y2="531.25" stroke="#333" stroke-width="1"/>
<text x="364.90" y="534.95" font-size="10.3" text-anchor="end" font-weight="normal" fill="#111" >2</text>
<line x1="368.20" y1="516.10" x2="371.20" y2="516.10" stroke="#333" stroke-width="1"/>
<text x="364.90" y="519.80" font-size="10.3" text-anchor="end" font-weight="normal" fill="#111" >2.1</text>
<line x1="368.20" y1="500.95" x2="371.20" y2="500.95" stroke="#333" stroke-width="1"/>
<text x="364.90" y="504.65" font-size="10.3" text-anchor="end" font-weight="normal" fill="#111" >2.2</text>
<line x1="368.20" y1="485.80" x2="371.20" y2="485.80" stroke="#333" stroke-width="1"/>
<text x="364.90" y="489.50" font-size="10.3" text-anchor="end" font-weight="normal" fill="#111" >2.3</text>
<line x1="368.20" y1="470.65" x2="371.20" y2="470.65" stroke="#333" stroke-width="1"/>
<text x="364.90" y="474.35" font-size="10.3" text-anchor="end" font-weight="normal" fill="#111" >2.4</text>
<line x1="371.20" y1="576.70" x2="371.20" y2="580.20" stroke="#333" stroke-width="1"/>
<line x1="398.30" y1="576.70" x2="398.30" y2="580.20" stroke="#333" stroke-width="1"/>
<line x1="425.80" y1="576.70" x2="425.80" y2="580.20" stroke="#333" stroke-width="1"/>
<line x1="452.90" y1="576.70" x2="452.90" y2="580.20" stroke="#333" stroke-width="1"/>
<text x="411.60" y="596.20" font-size="11.5" text-anchor="start" font-weight="normal" fill="#111" >Cell #</text>
<text x="345.20" y="518.25" font-size="10.8" text-anchor="middle" font-weight="normal" fill="#111" transform="rotate(-90 345.2 518.25)" >Fluorescence lifetime (ns)</text>
<text x="399.9" y="450.2" font-size="10.8" fill="#111">Clover<tspan font-size="7.2">T153M</tspan>/</text><text x="399.9" y="460.6" font-size="10.8" fill="#111">ShadowY</text>
<text x="378.00" y="569.40" font-size="12" text-anchor="start" font-weight="normal" fill="#111" >n=74</text>
<circle cx="371.26" cy="470.70" r="1.85" fill="#e41a1c" stroke="none" stroke-width="1"/>
<circle cx="372.89" cy="473.96" r="1.85" fill="#e41a1c" stroke="none" stroke-width="1"/>
<circle cx="374.52" cy="473.15" r="1.85" fill="#e41a1c" stroke="none" stroke-width="1"/>
<circle cx="376.15" cy="472.33" r="1.85" fill="#e41a1c" stroke="none" stroke-width="1"/>
<circle cx="377.45" cy="476.41" r="1.85" fill="#e41a1c" stroke="none" stroke-width="1"/>
<circle cx="378.59" cy="473.15" r="1.85" fill="#e41a1c" stroke="none" stroke-width="1"/>
<circle cx="380.22" cy="473.96" r="1.85" fill="#e41a1c" stroke="none" stroke-width="1"/>
<circle cx="381.85" cy="474.78" r="1.85" fill="#e41a1c" stroke="none" stroke-width="1"/>
<circle cx="383.48" cy="475.59" r="1.85" fill="#e41a1c" stroke="none" stroke-width="1"/>
<circle cx="385.11" cy="474.78" r="1.85" fill="#e41a1c" stroke="none" stroke-width="1"/>
<circle cx="386.74" cy="477.22" r="1.85" fill="#e41a1c" stroke="none" stroke-width="1"/>
<circle cx="388.37" cy="473.96" r="1.85" fill="#e41a1c" stroke="none" stroke-width="1"/>
<circle cx="390.00" cy="475.59" r="1.85" fill="#e41a1c" stroke="none" stroke-width="1"/>
<circle cx="391.63" cy="476.41" r="1.85" fill="#e41a1c" stroke="none" stroke-width="1"/>
<circle cx="393.26" cy="478.04" r="1.85" fill="#e41a1c" stroke="none" stroke-width="1"/>
<circle cx="394.89" cy="474.78" r="1.85" fill="#e41a1c" stroke="none" stroke-width="1"/>
<circle cx="396.52" cy="477.22" r="1.85" fill="#e41a1c" stroke="none" stroke-width="1"/>
<circle cx="398.15" cy="478.04" r="1.85" fill="#e41a1c" stroke="none" stroke-width="1"/>
<circle cx="399.78" cy="477.22" r="1.85" fill="#e41a1c" stroke="none" stroke-width="1"/>
<circle cx="401.41" cy="476.41" r="1.85" fill="#e41a1c" stroke="none" stroke-width="1"/>
<circle cx="403.04" cy="478.85" r="1.85" fill="#e41a1c" stroke="none" stroke-width="1"/>
<circle cx="404.67" cy="479.67" r="1.85" fill="#e41a1c" stroke="none" stroke-width="1"/>
<circle cx="406.30" cy="485.37" r="1.85" fill="#e41a1c" stroke="none" stroke-width="1"/>
<circle cx="407.11" cy="478.85" r="1.85" fill="#e41a1c" stroke="none" stroke-width="1"/>
<circle cx="408.74" cy="478.04" r="1.85" fill="#e41a1c" stroke="none" stroke-width="1"/>
<circle cx="410.37" cy="477.22" r="1.85" fill="#e41a1c" stroke="none" stroke-width="1"/>
<circle cx="412.00" cy="477.22" r="1.85" fill="#e41a1c" stroke="none" stroke-width="1"/>
<circle cx="413.63" cy="476.73" r="1.85" fill="#e41a1c" stroke="none" stroke-width="1"/>
<circle cx="415.26" cy="476.41" r="1.85" fill="#e41a1c" stroke="none" stroke-width="1"/>
<circle cx="416.89" cy="476.73" r="1.85" fill="#e41a1c" stroke="none" stroke-width="1"/>
<circle cx="418.52" cy="477.22" r="1.85" fill="#e41a1c" stroke="none" stroke-width="1"/>
<circle cx="420.15" cy="478.04" r="1.85" fill="#e41a1c" stroke="none" stroke-width="1"/>
<circle cx="421.78" cy="480.48" r="1.85" fill="#e41a1c" stroke="none" stroke-width="1"/>
<circle cx="423.41" cy="482.11" r="1.85" fill="#e41a1c" stroke="none" stroke-width="1"/>
<circle cx="424.71" cy="483.74" r="1.85" fill="#e41a1c" stroke="none" stroke-width="1"/>
<circle cx="425.86" cy="489.45" r="1.85" fill="#e41a1c" stroke="none" stroke-width="1"/>
<circle cx="427.00" cy="478.85" r="1.85" fill="#e41a1c" stroke="none" stroke-width="1"/>
<circle cx="428.30" cy="486.19" r="1.85" fill="#e41a1c" stroke="none" stroke-width="1"/>
<circle cx="429.60" cy="479.67" r="1.85" fill="#e41a1c" stroke="none" stroke-width="1"/>
<circle cx="431.56" cy="480.48" r="1.85" fill="#e41a1c" stroke="none" stroke-width="1"/>
<circle cx="433.19" cy="481.30" r="1.85" fill="#e41a1c" stroke="none" stroke-width="1"/>
<circle cx="434.82" cy="480.48" r="1.85" fill="#e41a1c" stroke="none" stroke-width="1"/>
<circle cx="436.45" cy="478.85" r="1.85" fill="#e41a1c" stroke="none" stroke-width="1"/>
<circle cx="438.08" cy="482.11" r="1.85" fill="#e41a1c" stroke="none" stroke-width="1"/>
<circle cx="439.71" cy="481.30" r="1.85" fill="#e41a1c" stroke="none" stroke-width="1"/>
<circle cx="441.34" cy="482.93" r="1.85" fill="#e41a1c" stroke="none" stroke-width="1"/>
<circle cx="442.97" cy="482.11" r="1.85" fill="#e41a1c" stroke="none" stroke-width="1"/>
<circle cx="444.60" cy="483.74" r="1.85" fill="#e41a1c" stroke="none" stroke-width="1"/>
<circle cx="446.23" cy="485.37" r="1.85" fill="#e41a1c" stroke="none" stroke-width="1"/>
<circle cx="447.86" cy="486.19" r="1.85" fill="#e41a1c" stroke="none" stroke-width="1"/>
<circle cx="449.49" cy="482.93" r="1.85" fill="#e41a1c" stroke="none" stroke-width="1"/>
<circle cx="450.30" cy="481.30" r="1.85" fill="#e41a1c" stroke="none" stroke-width="1"/>
<circle cx="451.93" cy="485.37" r="1.85" fill="#e41a1c" stroke="none" stroke-width="1"/>
<circle cx="452.75" cy="487.82" r="1.85" fill="#e41a1c" stroke="none" stroke-width="1"/>
<circle cx="454.38" cy="484.56" r="1.85" fill="#e41a1c" stroke="none" stroke-width="1"/>
<circle cx="456.01" cy="486.19" r="1.85" fill="#e41a1c" stroke="none" stroke-width="1"/>
<circle cx="456.82" cy="488.63" r="1.85" fill="#e41a1c" stroke="none" stroke-width="1"/>
<circle cx="458.45" cy="487.82" r="1.85" fill="#e41a1c" stroke="none" stroke-width="1"/>
<circle cx="460.08" cy="488.63" r="1.85" fill="#e41a1c" stroke="none" stroke-width="1"/>
<circle cx="461.71" cy="488.63" r="1.85" fill="#e41a1c" stroke="none" stroke-width="1"/>
<circle cx="462.52" cy="493.52" r="1.85" fill="#e41a1c" stroke="none" stroke-width="1"/>
<circle cx="464.15" cy="494.34" r="1.85" fill="#e41a1c" stroke="none" stroke-width="1"/>
<circle cx="465.78" cy="495.15" r="1.85" fill="#e41a1c" stroke="none" stroke-width="1"/>
<circle cx="467.41" cy="496.78" r="1.85" fill="#e41a1c" stroke="none" stroke-width="1"/>
<circle cx="469.04" cy="497.59" r="1.85" fill="#e41a1c" stroke="none" stroke-width="1"/>
<circle cx="470.67" cy="497.59" r="1.85" fill="#e41a1c" stroke="none" stroke-width="1"/>
<circle cx="472.30" cy="502.48" r="1.85" fill="#e41a1c" stroke="none" stroke-width="1"/>
<circle cx="372.30" cy="498.68" r="1.7" fill="#000" stroke="none" stroke-width="1"/>
<circle cx="373.67" cy="502.82" r="1.7" fill="#000" stroke="none" stroke-width="1"/>
<circle cx="375.04" cy="504.11" r="1.7" fill="#000" stroke="none" stroke-width="1"/>
<circle cx="376.41" cy="505.41" r="1.7" fill="#000" stroke="none" stroke-width="1"/>
<circle cx="377.78" cy="505.70" r="1.7" fill="#000" stroke="none" stroke-width="1"/>
<circle cx="379.15" cy="505.93" r="1.7" fill="#000" stroke="none" stroke-width="1"/>
<circle cx="380.52" cy="506.15" r="1.7" fill="#000" stroke="none" stroke-width="1"/>
<circle cx="381.89" cy="506.37" r="1.7" fill="#000" stroke="none" stroke-width="1"/>
<circle cx="383.26" cy="506.60" r="1.7" fill="#000" stroke="none" stroke-width="1"/>
<circle cx="384.63" cy="506.82" r="1.7" fill="#000" stroke="none" stroke-width="1"/>
<circle cx="386.00" cy="507.07" r="1.7" fill="#000" stroke="none" stroke-width="1"/>
<circle cx="387.37" cy="507.46" r="1.7" fill="#000" stroke="none" stroke-width="1"/>
<circle cx="388.74" cy="507.86" r="1.7" fill="#000" stroke="none" stroke-width="1"/>
<circle cx="390.11" cy="508.25" r="1.7" fill="#000" stroke="none" stroke-width="1"/>
<circle cx="391.48" cy="508.65" r="1.7" fill="#000" stroke="none" stroke-width="1"/>
<circle cx="392.85" cy="509.04" r="1.7" fill="#000" stroke="none" stroke-width="1"/>
<circle cx="394.22" cy="509.44" r="1.7" fill="#000" stroke="none" stroke-width="1"/>
<circle cx="395.59" cy="509.83" r="1.7" fill="#000" stroke="none" stroke-width="1"/>
<circle cx="396.96" cy="510.14" r="1.7" fill="#000" stroke="none" stroke-width="1"/>
<circle cx="398.33" cy="510.35" r="1.7" fill="#000" stroke="none" stroke-width="1"/>
<circle cx="399.70" cy="510.55" r="1.7" fill="#000" stroke="none" stroke-width="1"/>
<circle cx="401.07" cy="510.76" r="1.7" fill="#000" stroke="none" stroke-width="1"/>
<circle cx="402.44" cy="510.97" r="1.7" fill="#000" stroke="none" stroke-width="1"/>
<circle cx="403.81" cy="511.18" r="1.7" fill="#000" stroke="none" stroke-width="1"/>
<circle cx="405.18" cy="511.38" r="1.7" fill="#000" stroke="none" stroke-width="1"/>
<circle cx="406.55" cy="511.58" r="1.7" fill="#000" stroke="none" stroke-width="1"/>
<circle cx="407.92" cy="511.72" r="1.7" fill="#000" stroke="none" stroke-width="1"/>
<circle cx="409.29" cy="511.86" r="1.7" fill="#000" stroke="none" stroke-width="1"/>
<circle cx="410.66" cy="511.99" r="1.7" fill="#000" stroke="none" stroke-width="1"/>
<circle cx="412.03" cy="512.13" r="1.7" fill="#000" stroke="none" stroke-width="1"/>
<circle cx="413.40" cy="512.27" r="1.7" fill="#000" stroke="none" stroke-width="1"/>
<circle cx="414.77" cy="512.41" r="1.7" fill="#000" stroke="none" stroke-width="1"/>
<circle cx="416.14" cy="512.55" r="1.7" fill="#000" stroke="none" stroke-width="1"/>
<circle cx="417.51" cy="512.69" r="1.7" fill="#000" stroke="none" stroke-width="1"/>
<circle cx="418.88" cy="512.83" r="1.7" fill="#000" stroke="none" stroke-width="1"/>
<circle cx="420.25" cy="512.96" r="1.7" fill="#000" stroke="none" stroke-width="1"/>
<circle cx="421.62" cy="513.13" r="1.7" fill="#000" stroke="none" stroke-width="1"/>
<circle cx="422.98" cy="513.38" r="1.7" fill="#000" stroke="none" stroke-width="1"/>
<circle cx="424.35" cy="513.63" r="1.7" fill="#000" stroke="none" stroke-width="1"/>
<circle cx="425.72" cy="513.87" r="1.7" fill="#000" stroke="none" stroke-width="1"/>
<circle cx="427.09" cy="514.12" r="1.7" fill="#000" stroke="none" stroke-width="1"/>
<circle cx="428.46" cy="514.37" r="1.7" fill="#000" stroke="none" stroke-width="1"/>
<circle cx="429.83" cy="514.62" r="1.7" fill="#000" stroke="none" stroke-width="1"/>
<circle cx="431.20" cy="514.87" r="1.7" fill="#000" stroke="none" stroke-width="1"/>
<circle cx="432.57" cy="515.12" r="1.7" fill="#000" stroke="none" stroke-width="1"/>
<circle cx="433.94" cy="515.38" r="1.7" fill="#000" stroke="none" stroke-width="1"/>
<circle cx="435.31" cy="515.78" r="1.7" fill="#000" stroke="none" stroke-width="1"/>
<circle cx="436.68" cy="516.17" r="1.7" fill="#000" stroke="none" stroke-width="1"/>
<circle cx="438.05" cy="516.57" r="1.7" fill="#000" stroke="none" stroke-width="1"/>
<circle cx="439.42" cy="516.97" r="1.7" fill="#000" stroke="none" stroke-width="1"/>
<circle cx="440.79" cy="517.36" r="1.7" fill="#000" stroke="none" stroke-width="1"/>
<circle cx="442.16" cy="517.76" r="1.7" fill="#000" stroke="none" stroke-width="1"/>
<circle cx="443.53" cy="518.15" r="1.7" fill="#000" stroke="none" stroke-width="1"/>
<circle cx="444.90" cy="518.54" r="1.7" fill="#000" stroke="none" stroke-width="1"/>
<circle cx="446.27" cy="518.93" r="1.7" fill="#000" stroke="none" stroke-width="1"/>
<circle cx="447.64" cy="519.32" r="1.7" fill="#000" stroke="none" stroke-width="1"/>
<circle cx="449.01" cy="519.71" r="1.7" fill="#000" stroke="none" stroke-width="1"/>
<circle cx="450.38" cy="520.10" r="1.7" fill="#000" stroke="none" stroke-width="1"/>
<circle cx="451.75" cy="520.49" r="1.7" fill="#000" stroke="none" stroke-width="1"/>
<circle cx="453.12" cy="521.03" r="1.7" fill="#000" stroke="none" stroke-width="1"/>
<circle cx="454.49" cy="521.67" r="1.7" fill="#000" stroke="none" stroke-width="1"/>
<circle cx="455.86" cy="522.31" r="1.7" fill="#000" stroke="none" stroke-width="1"/>
<circle cx="457.23" cy="522.94" r="1.7" fill="#000" stroke="none" stroke-width="1"/>
<circle cx="458.60" cy="523.58" r="1.7" fill="#000" stroke="none" stroke-width="1"/>
<circle cx="459.97" cy="524.53" r="1.7" fill="#000" stroke="none" stroke-width="1"/>
<circle cx="461.34" cy="525.54" r="1.7" fill="#000" stroke="none" stroke-width="1"/>
<circle cx="462.71" cy="526.54" r="1.7" fill="#000" stroke="none" stroke-width="1"/>
<circle cx="464.08" cy="527.55" r="1.7" fill="#000" stroke="none" stroke-width="1"/>
<circle cx="465.45" cy="528.55" r="1.7" fill="#000" stroke="none" stroke-width="1"/>
<circle cx="466.82" cy="529.53" r="1.7" fill="#000" stroke="none" stroke-width="1"/>
<circle cx="468.19" cy="530.52" r="1.7" fill="#000" stroke="none" stroke-width="1"/>
<circle cx="469.56" cy="531.51" r="1.7" fill="#000" stroke="none" stroke-width="1"/>
<circle cx="470.93" cy="532.50" r="1.7" fill="#000" stroke="none" stroke-width="1"/>
<circle cx="472.30" cy="538.07" r="1.7" fill="#000" stroke="none" stroke-width="1"/>
<line x1="479.20" y1="523.67" x2="479.20" y2="508.53" stroke="#111" stroke-width="1"/>
<circle cx="479.20" cy="516.10" r="1.9" fill="#000" stroke="none" stroke-width="1"/>
<line x1="482.10" y1="488.07" x2="482.10" y2="474.44" stroke="#e41a1c" stroke-width="1"/>
<circle cx="482.10" cy="481.25" r="1.9" fill="#e41a1c" stroke="none" stroke-width="1"/>
<text x="499.00" y="445.00" font-size="17.5" text-anchor="start" font-weight="bold" fill="#000" >l</text>
<line x1="538.20" y1="463.80" x2="538.20" y2="578.20" stroke="#333" stroke-width="1"/>
<line x1="538.20" y1="577.70" x2="642.30" y2="577.70" stroke="#333" stroke-width="1"/>
<line x1="644.50" y1="577.70" x2="655.00" y2="577.70" stroke="#333" stroke-width="1"/>
<line x1="535.20" y1="577.70" x2="538.20" y2="577.70" stroke="#333" stroke-width="1"/>
<text x="531.90" y="581.40" font-size="10.3" text-anchor="end" font-weight="normal" fill="#111" >1.7</text>
<line x1="535.20" y1="562.48" x2="538.20" y2="562.48" stroke="#333" stroke-width="1"/>
<text x="531.90" y="566.18" font-size="10.3" text-anchor="end" font-weight="normal" fill="#111" >1.8</text>
<line x1="535.20" y1="547.26" x2="538.20" y2="547.26" stroke="#333" stroke-width="1"/>
<text x="531.90" y="550.96" font-size="10.3" text-anchor="end" font-weight="normal" fill="#111" >1.9</text>
<line x1="535.20" y1="532.04" x2="538.20" y2="532.04" stroke="#333" stroke-width="1"/>
<text x="531.90" y="535.74" font-size="10.3" text-anchor="end" font-weight="normal" fill="#111" >2</text>
<line x1="535.20" y1="516.82" x2="538.20" y2="516.82" stroke="#333" stroke-width="1"/>
<text x="531.90" y="520.52" font-size="10.3" text-anchor="end" font-weight="normal" fill="#111" >2.1</text>
<line x1="535.20" y1="501.60" x2="538.20" y2="501.60" stroke="#333" stroke-width="1"/>
<text x="531.90" y="505.30" font-size="10.3" text-anchor="end" font-weight="normal" fill="#111" >2.2</text>
<line x1="535.20" y1="486.38" x2="538.20" y2="486.38" stroke="#333" stroke-width="1"/>
<text x="531.90" y="490.08" font-size="10.3" text-anchor="end" font-weight="normal" fill="#111" >2.3</text>
<line x1="535.20" y1="471.16" x2="538.20" y2="471.16" stroke="#333" stroke-width="1"/>
<text x="531.90" y="474.86" font-size="10.3" text-anchor="end" font-weight="normal" fill="#111" >2.4</text>
<line x1="538.20" y1="577.70" x2="538.20" y2="581.20" stroke="#333" stroke-width="1"/>
<line x1="565.90" y1="577.70" x2="565.90" y2="581.20" stroke="#333" stroke-width="1"/>
<line x1="593.80" y1="577.70" x2="593.80" y2="581.20" stroke="#333" stroke-width="1"/>
<line x1="621.50" y1="577.70" x2="621.50" y2="581.20" stroke="#333" stroke-width="1"/>
<text x="579.00" y="597.20" font-size="11.5" text-anchor="start" font-weight="normal" fill="#111" >Cell #</text>
<text x="512.20" y="518.75" font-size="10.8" text-anchor="middle" font-weight="normal" fill="#111" transform="rotate(-90 512.2 518.75)" >Fluorescence lifetime (ns)</text>
<text x="552" y="450.2" font-size="10.8" fill="#111">Clover<tspan font-size="7.2">T153M/F223R</tspan>/</text><text x="552" y="460.6" font-size="10.8" fill="#111">ShadowY</text>
<text x="548.40" y="569.10" font-size="12" text-anchor="start" font-weight="normal" fill="#111" >n=73</text>
<circle cx="539.07" cy="479.07" r="1.85" fill="#e41a1c" stroke="none" stroke-width="1"/>
<circle cx="540.70" cy="479.89" r="1.85" fill="#e41a1c" stroke="none" stroke-width="1"/>
<circle cx="542.33" cy="479.89" r="1.85" fill="#e41a1c" stroke="none" stroke-width="1"/>
<circle cx="543.96" cy="480.70" r="1.85" fill="#e41a1c" stroke="none" stroke-width="1"/>
<circle cx="544.78" cy="483.96" r="1.85" fill="#e41a1c" stroke="none" stroke-width="1"/>
<circle cx="546.41" cy="480.70" r="1.85" fill="#e41a1c" stroke="none" stroke-width="1"/>
<circle cx="548.04" cy="481.52" r="1.85" fill="#e41a1c" stroke="none" stroke-width="1"/>
<circle cx="549.99" cy="486.41" r="1.85" fill="#e41a1c" stroke="none" stroke-width="1"/>
<circle cx="551.30" cy="482.33" r="1.85" fill="#e41a1c" stroke="none" stroke-width="1"/>
<circle cx="552.93" cy="479.07" r="1.85" fill="#e41a1c" stroke="none" stroke-width="1"/>
<circle cx="553.74" cy="481.52" r="1.85" fill="#e41a1c" stroke="none" stroke-width="1"/>
<circle cx="555.37" cy="483.15" r="1.85" fill="#e41a1c" stroke="none" stroke-width="1"/>
<circle cx="557.00" cy="484.78" r="1.85" fill="#e41a1c" stroke="none" stroke-width="1"/>
<circle cx="558.63" cy="483.15" r="1.85" fill="#e41a1c" stroke="none" stroke-width="1"/>
<circle cx="560.26" cy="485.59" r="1.85" fill="#e41a1c" stroke="none" stroke-width="1"/>
<circle cx="561.89" cy="483.96" r="1.85" fill="#e41a1c" stroke="none" stroke-width="1"/>
<circle cx="563.52" cy="485.59" r="1.85" fill="#e41a1c" stroke="none" stroke-width="1"/>
<circle cx="565.15" cy="486.41" r="1.85" fill="#e41a1c" stroke="none" stroke-width="1"/>
<circle cx="566.78" cy="484.78" r="1.85" fill="#e41a1c" stroke="none" stroke-width="1"/>
<circle cx="568.41" cy="487.22" r="1.85" fill="#e41a1c" stroke="none" stroke-width="1"/>
<circle cx="570.04" cy="486.41" r="1.85" fill="#e41a1c" stroke="none" stroke-width="1"/>
<circle cx="571.67" cy="485.59" r="1.85" fill="#e41a1c" stroke="none" stroke-width="1"/>
<circle cx="573.30" cy="483.96" r="1.85" fill="#e41a1c" stroke="none" stroke-width="1"/>
<circle cx="574.11" cy="487.22" r="1.85" fill="#e41a1c" stroke="none" stroke-width="1"/>
<circle cx="575.74" cy="486.41" r="1.85" fill="#e41a1c" stroke="none" stroke-width="1"/>
<circle cx="577.37" cy="488.04" r="1.85" fill="#e41a1c" stroke="none" stroke-width="1"/>
<circle cx="579.00" cy="487.22" r="1.85" fill="#e41a1c" stroke="none" stroke-width="1"/>
<circle cx="580.63" cy="488.04" r="1.85" fill="#e41a1c" stroke="none" stroke-width="1"/>
<circle cx="582.26" cy="495.37" r="1.85" fill="#e41a1c" stroke="none" stroke-width="1"/>
<circle cx="583.08" cy="488.04" r="1.85" fill="#e41a1c" stroke="none" stroke-width="1"/>
<circle cx="584.71" cy="488.85" r="1.85" fill="#e41a1c" stroke="none" stroke-width="1"/>
<circle cx="586.34" cy="489.67" r="1.85" fill="#e41a1c" stroke="none" stroke-width="1"/>
<circle cx="587.97" cy="491.30" r="1.85" fill="#e41a1c" stroke="none" stroke-width="1"/>
<circle cx="589.60" cy="492.93" r="1.85" fill="#e41a1c" stroke="none" stroke-width="1"/>
<circle cx="591.23" cy="487.22" r="1.85" fill="#e41a1c" stroke="none" stroke-width="1"/>
<circle cx="592.04" cy="490.48" r="1.85" fill="#e41a1c" stroke="none" stroke-width="1"/>
<circle cx="593.67" cy="497.82" r="1.85" fill="#e41a1c" stroke="none" stroke-width="1"/>
<circle cx="594.49" cy="491.30" r="1.85" fill="#e41a1c" stroke="none" stroke-width="1"/>
<circle cx="596.11" cy="499.45" r="1.85" fill="#e41a1c" stroke="none" stroke-width="1"/>
<circle cx="596.93" cy="492.93" r="1.85" fill="#e41a1c" stroke="none" stroke-width="1"/>
<circle cx="598.56" cy="492.11" r="1.85" fill="#e41a1c" stroke="none" stroke-width="1"/>
<circle cx="600.19" cy="491.30" r="1.85" fill="#e41a1c" stroke="none" stroke-width="1"/>
<circle cx="601.82" cy="492.93" r="1.85" fill="#e41a1c" stroke="none" stroke-width="1"/>
<circle cx="603.45" cy="491.30" r="1.85" fill="#e41a1c" stroke="none" stroke-width="1"/>
<circle cx="605.08" cy="493.74" r="1.85" fill="#e41a1c" stroke="none" stroke-width="1"/>
<circle cx="606.71" cy="496.19" r="1.85" fill="#e41a1c" stroke="none" stroke-width="1"/>
<circle cx="607.52" cy="493.74" r="1.85" fill="#e41a1c" stroke="none" stroke-width="1"/>
<circle cx="609.15" cy="492.93" r="1.85" fill="#e41a1c" stroke="none" stroke-width="1"/>
<circle cx="610.78" cy="492.11" r="1.85" fill="#e41a1c" stroke="none" stroke-width="1"/>
<circle cx="612.41" cy="491.30" r="1.85" fill="#e41a1c" stroke="none" stroke-width="1"/>
<circle cx="614.04" cy="497.00" r="1.85" fill="#e41a1c" stroke="none" stroke-width="1"/>
<circle cx="615.67" cy="492.93" r="1.85" fill="#e41a1c" stroke="none" stroke-width="1"/>
<circle cx="617.30" cy="500.26" r="1.85" fill="#e41a1c" stroke="none" stroke-width="1"/>
<circle cx="618.93" cy="496.19" r="1.85" fill="#e41a1c" stroke="none" stroke-width="1"/>
<circle cx="620.56" cy="497.82" r="1.85" fill="#e41a1c" stroke="none" stroke-width="1"/>
<circle cx="623.01" cy="497.00" r="1.85" fill="#e41a1c" stroke="none" stroke-width="1"/>
<circle cx="624.31" cy="501.08" r="1.85" fill="#e41a1c" stroke="none" stroke-width="1"/>
<circle cx="625.45" cy="496.19" r="1.85" fill="#e41a1c" stroke="none" stroke-width="1"/>
<circle cx="627.08" cy="496.19" r="1.85" fill="#e41a1c" stroke="none" stroke-width="1"/>
<circle cx="628.71" cy="498.63" r="1.85" fill="#e41a1c" stroke="none" stroke-width="1"/>
<circle cx="630.34" cy="501.08" r="1.85" fill="#e41a1c" stroke="none" stroke-width="1"/>
<circle cx="631.97" cy="504.34" r="1.85" fill="#e41a1c" stroke="none" stroke-width="1"/>
<circle cx="633.60" cy="505.96" r="1.85" fill="#e41a1c" stroke="none" stroke-width="1"/>
<circle cx="635.23" cy="508.41" r="1.85" fill="#e41a1c" stroke="none" stroke-width="1"/>
<circle cx="636.86" cy="512.48" r="1.85" fill="#e41a1c" stroke="none" stroke-width="1"/>
<circle cx="637.67" cy="512.48" r="1.85" fill="#e41a1c" stroke="none" stroke-width="1"/>
<circle cx="639.30" cy="519.00" r="1.85" fill="#e41a1c" stroke="none" stroke-width="1"/>
<circle cx="539.30" cy="514.23" r="1.7" fill="#000" stroke="none" stroke-width="1"/>
<circle cx="540.69" cy="514.46" r="1.7" fill="#000" stroke="none" stroke-width="1"/>
<circle cx="542.08" cy="514.69" r="1.7" fill="#000" stroke="none" stroke-width="1"/>
<circle cx="543.47" cy="514.92" r="1.7" fill="#000" stroke="none" stroke-width="1"/>
<circle cx="544.86" cy="515.15" r="1.7" fill="#000" stroke="none" stroke-width="1"/>
<circle cx="546.24" cy="515.38" r="1.7" fill="#000" stroke="none" stroke-width="1"/>
<circle cx="547.63" cy="515.61" r="1.7" fill="#000" stroke="none" stroke-width="1"/>
<circle cx="549.02" cy="515.85" r="1.7" fill="#000" stroke="none" stroke-width="1"/>
<circle cx="550.41" cy="516.08" r="1.7" fill="#000" stroke="none" stroke-width="1"/>
<circle cx="551.80" cy="516.31" r="1.7" fill="#000" stroke="none" stroke-width="1"/>
<circle cx="553.19" cy="516.54" r="1.7" fill="#000" stroke="none" stroke-width="1"/>
<circle cx="554.58" cy="516.77" r="1.7" fill="#000" stroke="none" stroke-width="1"/>
<circle cx="555.97" cy="517.59" r="1.7" fill="#000" stroke="none" stroke-width="1"/>
<circle cx="557.36" cy="518.60" r="1.7" fill="#000" stroke="none" stroke-width="1"/>
<circle cx="558.74" cy="519.61" r="1.7" fill="#000" stroke="none" stroke-width="1"/>
<circle cx="560.13" cy="520.61" r="1.7" fill="#000" stroke="none" stroke-width="1"/>
<circle cx="561.52" cy="521.44" r="1.7" fill="#000" stroke="none" stroke-width="1"/>
<circle cx="562.91" cy="521.65" r="1.7" fill="#000" stroke="none" stroke-width="1"/>
<circle cx="564.30" cy="521.87" r="1.7" fill="#000" stroke="none" stroke-width="1"/>
<circle cx="565.69" cy="522.09" r="1.7" fill="#000" stroke="none" stroke-width="1"/>
<circle cx="567.08" cy="522.31" r="1.7" fill="#000" stroke="none" stroke-width="1"/>
<circle cx="568.47" cy="522.52" r="1.7" fill="#000" stroke="none" stroke-width="1"/>
<circle cx="569.86" cy="522.74" r="1.7" fill="#000" stroke="none" stroke-width="1"/>
<circle cx="571.24" cy="522.96" r="1.7" fill="#000" stroke="none" stroke-width="1"/>
<circle cx="572.63" cy="523.17" r="1.7" fill="#000" stroke="none" stroke-width="1"/>
<circle cx="574.02" cy="523.39" r="1.7" fill="#000" stroke="none" stroke-width="1"/>
<circle cx="575.41" cy="523.61" r="1.7" fill="#000" stroke="none" stroke-width="1"/>
<circle cx="576.80" cy="523.93" r="1.7" fill="#000" stroke="none" stroke-width="1"/>
<circle cx="578.19" cy="524.30" r="1.7" fill="#000" stroke="none" stroke-width="1"/>
<circle cx="579.58" cy="524.66" r="1.7" fill="#000" stroke="none" stroke-width="1"/>
<circle cx="580.97" cy="525.02" r="1.7" fill="#000" stroke="none" stroke-width="1"/>
<circle cx="582.36" cy="525.39" r="1.7" fill="#000" stroke="none" stroke-width="1"/>
<circle cx="583.74" cy="525.75" r="1.7" fill="#000" stroke="none" stroke-width="1"/>
<circle cx="585.13" cy="526.12" r="1.7" fill="#000" stroke="none" stroke-width="1"/>
<circle cx="586.52" cy="526.48" r="1.7" fill="#000" stroke="none" stroke-width="1"/>
<circle cx="587.91" cy="526.85" r="1.7" fill="#000" stroke="none" stroke-width="1"/>
<circle cx="589.30" cy="527.21" r="1.7" fill="#000" stroke="none" stroke-width="1"/>
<circle cx="590.69" cy="527.56" r="1.7" fill="#000" stroke="none" stroke-width="1"/>
<circle cx="592.08" cy="527.88" r="1.7" fill="#000" stroke="none" stroke-width="1"/>
<circle cx="593.47" cy="528.20" r="1.7" fill="#000" stroke="none" stroke-width="1"/>
<circle cx="594.86" cy="528.51" r="1.7" fill="#000" stroke="none" stroke-width="1"/>
<circle cx="596.24" cy="528.83" r="1.7" fill="#000" stroke="none" stroke-width="1"/>
<circle cx="597.63" cy="529.14" r="1.7" fill="#000" stroke="none" stroke-width="1"/>
<circle cx="599.02" cy="529.46" r="1.7" fill="#000" stroke="none" stroke-width="1"/>
<circle cx="600.41" cy="529.78" r="1.7" fill="#000" stroke="none" stroke-width="1"/>
<circle cx="601.80" cy="530.09" r="1.7" fill="#000" stroke="none" stroke-width="1"/>
<circle cx="603.19" cy="530.41" r="1.7" fill="#000" stroke="none" stroke-width="1"/>
<circle cx="604.58" cy="530.73" r="1.7" fill="#000" stroke="none" stroke-width="1"/>
<circle cx="605.97" cy="531.04" r="1.7" fill="#000" stroke="none" stroke-width="1"/>
<circle cx="607.36" cy="531.35" r="1.7" fill="#000" stroke="none" stroke-width="1"/>
<circle cx="608.74" cy="531.64" r="1.7" fill="#000" stroke="none" stroke-width="1"/>
<circle cx="610.13" cy="531.93" r="1.7" fill="#000" stroke="none" stroke-width="1"/>
<circle cx="611.52" cy="532.22" r="1.7" fill="#000" stroke="none" stroke-width="1"/>
<circle cx="612.91" cy="532.51" r="1.7" fill="#000" stroke="none" stroke-width="1"/>
<circle cx="614.30" cy="532.80" r="1.7" fill="#000" stroke="none" stroke-width="1"/>
<circle cx="615.69" cy="533.09" r="1.7" fill="#000" stroke="none" stroke-width="1"/>
<circle cx="617.08" cy="533.38" r="1.7" fill="#000" stroke="none" stroke-width="1"/>
<circle cx="618.47" cy="533.67" r="1.7" fill="#000" stroke="none" stroke-width="1"/>
<circle cx="619.86" cy="533.96" r="1.7" fill="#000" stroke="none" stroke-width="1"/>
<circle cx="621.24" cy="534.25" r="1.7" fill="#000" stroke="none" stroke-width="1"/>
<circle cx="622.63" cy="534.65" r="1.7" fill="#000" stroke="none" stroke-width="1"/>
<circle cx="624.02" cy="535.08" r="1.7" fill="#000" stroke="none" stroke-width="1"/>
<circle cx="625.41" cy="535.51" r="1.7" fill="#000" stroke="none" stroke-width="1"/>
<circle cx="626.80" cy="535.95" r="1.7" fill="#000" stroke="none" stroke-width="1"/>
<circle cx="628.19" cy="536.38" r="1.7" fill="#000" stroke="none" stroke-width="1"/>
<circle cx="629.58" cy="537.77" r="1.7" fill="#000" stroke="none" stroke-width="1"/>
<circle cx="630.97" cy="540.16" r="1.7" fill="#000" stroke="none" stroke-width="1"/>
<circle cx="632.36" cy="542.54" r="1.7" fill="#000" stroke="none" stroke-width="1"/>
<circle cx="633.74" cy="544.93" r="1.7" fill="#000" stroke="none" stroke-width="1"/>
<circle cx="635.13" cy="547.28" r="1.7" fill="#000" stroke="none" stroke-width="1"/>
<circle cx="636.52" cy="548.27" r="1.7" fill="#000" stroke="none" stroke-width="1"/>
<circle cx="637.91" cy="549.27" r="1.7" fill="#000" stroke="none" stroke-width="1"/>
<circle cx="639.30" cy="556.39" r="1.7" fill="#000" stroke="none" stroke-width="1"/>
<line x1="646.50" y1="535.08" x2="646.50" y2="518.34" stroke="#111" stroke-width="1"/>
<circle cx="646.50" cy="526.71" r="1.9" fill="#000" stroke="none" stroke-width="1"/>
<line x1="649.20" y1="499.32" x2="649.20" y2="484.10" stroke="#e41a1c" stroke-width="1"/>
<circle cx="649.20" cy="491.71" r="1.9" fill="#e41a1c" stroke="none" stroke-width="1"/>
</svg></body></html>
